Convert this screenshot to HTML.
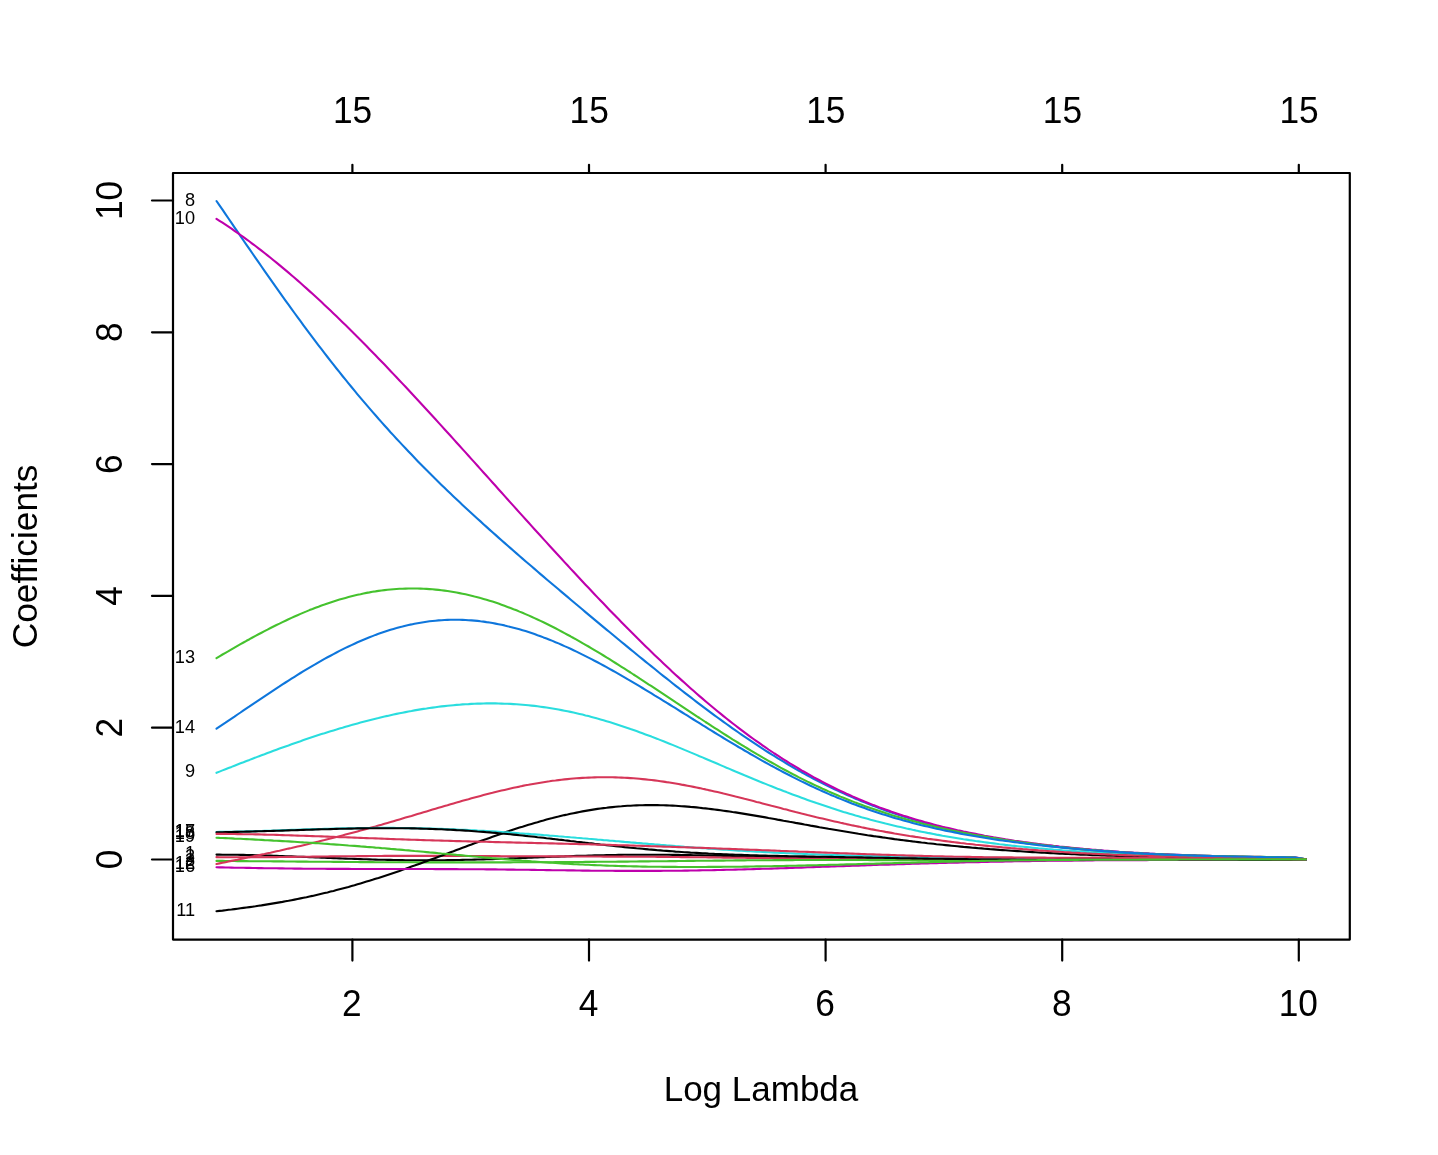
<!DOCTYPE html>
<html lang="en">
<head>
<meta charset="utf-8">
<title>Coefficient paths</title>
<style>
html,body{margin:0;padding:0;background:#fff;}
body{width:1438px;height:1155px;overflow:hidden;}
svg{display:block;}
text{font-family:"Liberation Sans",sans-serif;fill:#000;}
.ax{font-size:35.3px;}
.lb{font-size:18.2px;text-anchor:end;}
.ln{fill:none;stroke-width:2.10;stroke-linecap:round;stroke-linejoin:round;}
.tk{stroke:#000;stroke-width:2.2;fill:none;stroke-linecap:round;stroke-linejoin:round;}
</style>
</head>
<body>
<svg width="1438" height="1155" viewBox="0 0 1438 1155">
<rect x="0" y="0" width="1438" height="1155" fill="#ffffff"/>
<g id="curves">
<path class="ln" stroke="#000000" d="M216.5 854.6 L219.5 854.6 L222.5 854.7 L225.5 854.7 L228.5 854.7 L231.5 854.7 L234.5 854.8 L237.5 854.8 L240.5 854.9 L243.5 854.9 L246.5 855.0 L249.5 855.0 L252.5 855.1 L255.5 855.2 L258.5 855.3 L261.5 855.4 L264.5 855.4 L267.5 855.5 L270.5 855.6 L273.5 855.7 L276.5 855.8 L279.5 856.0 L282.5 856.1 L285.5 856.2 L288.5 856.3 L291.5 856.4 L294.5 856.5 L297.5 856.7 L300.5 856.8 L303.5 856.9 L306.5 857.0 L309.5 857.2 L312.5 857.3 L315.5 857.4 L318.5 857.5 L321.5 857.7 L324.5 857.8 L327.5 857.9 L330.5 858.0 L333.5 858.1 L336.5 858.3 L339.5 858.4 L342.5 858.5 L345.5 858.6 L348.5 858.7 L351.5 858.8 L354.5 858.9 L357.5 859.0 L360.5 859.1 L363.5 859.2 L366.5 859.3 L369.5 859.4 L372.5 859.5 L375.5 859.6 L378.5 859.7 L381.5 859.7 L384.5 859.8 L387.5 859.9 L390.5 859.9 L393.5 860.0 L396.5 860.0 L399.5 860.1 L402.5 860.1 L405.5 860.2 L408.5 860.2 L411.5 860.2 L414.5 860.3 L417.5 860.3 L420.5 860.3 L423.5 860.3 L426.5 860.3 L429.5 860.3 L432.5 860.3 L435.5 860.3 L438.5 860.2 L441.5 860.2 L444.5 860.2 L447.5 860.1 L450.5 860.1 L453.5 860.1 L456.5 860.0 L459.5 860.0 L462.5 859.9 L465.5 859.8 L468.5 859.8 L471.5 859.7 L474.5 859.6 L477.5 859.5 L480.5 859.5 L483.5 859.4 L486.5 859.3 L489.5 859.2 L492.5 859.1 L495.5 859.0 L498.5 858.9 L501.5 858.8 L504.5 858.7 L507.5 858.6 L510.5 858.4 L513.5 858.3 L516.5 858.2 L519.5 858.1 L522.5 858.0 L525.5 857.9 L528.5 857.7 L531.5 857.6 L534.5 857.5 L537.5 857.4 L540.5 857.3 L543.5 857.2 L546.5 857.0 L549.5 856.9 L552.5 856.8 L555.5 856.7 L558.5 856.6 L561.5 856.5 L564.5 856.4 L567.5 856.2 L570.5 856.1 L573.5 856.0 L576.5 855.9 L579.5 855.8 L582.5 855.8 L585.5 855.7 L588.5 855.6 L591.5 855.5 L594.5 855.4 L597.5 855.3 L600.5 855.3 L603.5 855.2 L606.5 855.1 L609.5 855.1 L612.5 855.0 L615.5 855.0 L618.5 854.9 L621.5 854.9 L624.5 854.8 L627.5 854.8 L630.5 854.8 L633.5 854.8 L636.5 854.7 L639.5 854.7 L642.5 854.7 L645.5 854.7 L648.5 854.7 L651.5 854.7 L654.5 854.7 L657.5 854.7 L660.5 854.8 L663.5 854.8 L666.5 854.8 L669.5 854.8 L672.5 854.9 L675.5 854.9 L678.5 854.9 L681.5 855.0 L684.5 855.0 L687.5 855.1 L690.5 855.1 L693.5 855.2 L696.5 855.3 L699.5 855.3 L702.5 855.4 L705.5 855.5 L708.5 855.5 L711.5 855.6 L714.5 855.7 L717.5 855.7 L720.5 855.8 L723.5 855.9 L726.5 856.0 L729.5 856.1 L732.5 856.1 L735.5 856.2 L738.5 856.3 L741.5 856.4 L744.5 856.5 L747.5 856.5 L750.5 856.6 L753.5 856.7 L756.5 856.8 L759.5 856.9 L762.5 856.9 L765.5 857.0 L768.5 857.1 L771.5 857.2 L774.5 857.2 L777.5 857.3 L780.5 857.4 L783.5 857.4 L786.5 857.5 L789.5 857.6 L792.5 857.6 L795.5 857.7 L798.5 857.8 L801.5 857.8 L804.5 857.9 L807.5 857.9 L810.5 858.0 L813.5 858.0 L816.5 858.1 L819.5 858.1 L822.5 858.2 L825.5 858.2 L828.5 858.2 L831.5 858.3 L834.5 858.3 L837.5 858.3 L840.5 858.4 L843.5 858.4 L846.5 858.4 L849.5 858.5 L852.5 858.5 L855.5 858.5 L858.5 858.5 L861.5 858.5 L864.5 858.5 L867.5 858.6 L870.5 858.6 L873.5 858.6 L876.5 858.6 L879.5 858.6 L882.5 858.6 L885.5 858.6 L888.5 858.6 L891.5 858.6 L894.5 858.6 L897.5 858.6 L900.5 858.6 L903.5 858.6 L906.5 858.6 L909.5 858.6 L912.5 858.6 L915.5 858.6 L918.5 858.6 L921.5 858.6 L924.5 858.6 L927.5 858.6 L930.5 858.6 L933.5 858.6 L936.5 858.6 L939.5 858.6 L942.5 858.7 L945.5 858.7 L948.5 858.7 L951.5 858.7 L954.5 858.7 L957.5 858.7 L960.5 858.7 L963.5 858.7 L966.5 858.7 L969.5 858.7 L972.5 858.7 L975.5 858.7 L978.5 858.7 L981.5 858.7 L984.5 858.7 L987.5 858.7 L990.5 858.7 L993.5 858.7 L996.5 858.7 L999.5 858.8 L1002.5 858.8 L1005.5 858.8 L1008.5 858.8 L1011.5 858.8 L1014.5 858.8 L1017.5 858.8 L1020.5 858.8 L1023.5 858.9 L1026.5 858.9 L1029.5 858.9 L1032.5 858.9 L1035.5 858.9 L1038.5 858.9 L1041.5 858.9 L1044.5 859.0 L1047.5 859.0 L1050.5 859.0 L1053.5 859.0 L1056.5 859.0 L1059.5 859.0 L1062.5 859.1 L1065.5 859.1 L1068.5 859.1 L1071.5 859.1 L1074.5 859.1 L1077.5 859.1 L1080.5 859.1 L1083.5 859.2 L1086.5 859.2 L1089.5 859.2 L1092.5 859.2 L1095.5 859.2 L1098.5 859.2 L1101.5 859.2 L1104.5 859.2 L1107.5 859.2 L1110.5 859.3 L1113.5 859.3 L1116.5 859.3 L1119.5 859.3 L1122.5 859.3 L1125.5 859.3 L1128.5 859.3 L1131.5 859.3 L1134.5 859.3 L1137.5 859.3 L1140.5 859.3 L1143.5 859.3 L1146.5 859.3 L1149.5 859.3 L1152.5 859.3 L1155.5 859.3 L1158.5 859.4 L1161.5 859.4 L1164.5 859.4 L1167.5 859.4 L1170.5 859.4 L1173.5 859.4 L1176.5 859.4 L1179.5 859.4 L1182.5 859.4 L1185.5 859.4 L1188.5 859.4 L1191.5 859.4 L1194.5 859.4 L1197.5 859.4 L1200.5 859.4 L1203.5 859.4 L1206.5 859.4 L1209.5 859.4 L1212.5 859.4 L1215.5 859.4 L1218.5 859.4 L1221.5 859.4 L1224.5 859.4 L1227.5 859.4 L1230.5 859.4 L1233.5 859.4 L1236.5 859.4 L1239.5 859.4 L1242.5 859.4 L1245.5 859.4 L1248.5 859.4 L1251.5 859.4 L1254.5 859.4 L1257.5 859.4 L1260.5 859.4 L1263.5 859.4 L1266.5 859.4 L1269.5 859.4 L1272.5 859.4 L1275.5 859.5 L1278.5 859.5 L1281.5 859.5 L1284.5 859.5 L1287.5 859.5 L1290.5 859.5 L1293.5 859.5 L1294.9 859.5 L1305.9 859.4"/>
<path class="ln" stroke="#D63658" d="M216.5 857.1 L219.5 857.2 L222.5 857.2 L225.5 857.2 L228.5 857.2 L231.5 857.2 L234.5 857.2 L237.5 857.2 L240.5 857.2 L243.5 857.2 L246.5 857.2 L249.5 857.2 L252.5 857.2 L255.5 857.2 L258.5 857.2 L261.5 857.2 L264.5 857.2 L267.5 857.1 L270.5 857.1 L273.5 857.1 L276.5 857.1 L279.5 857.0 L282.5 857.0 L285.5 857.0 L288.5 856.9 L291.5 856.9 L294.5 856.9 L297.5 856.8 L300.5 856.8 L303.5 856.8 L306.5 856.7 L309.5 856.7 L312.5 856.6 L315.5 856.6 L318.5 856.6 L321.5 856.5 L324.5 856.5 L327.5 856.5 L330.5 856.4 L333.5 856.4 L336.5 856.3 L339.5 856.3 L342.5 856.3 L345.5 856.2 L348.5 856.2 L351.5 856.2 L354.5 856.2 L357.5 856.1 L360.5 856.1 L363.5 856.1 L366.5 856.1 L369.5 856.0 L372.5 856.0 L375.5 856.0 L378.5 856.0 L381.5 856.0 L384.5 855.9 L387.5 855.9 L390.5 855.9 L393.5 855.9 L396.5 855.9 L399.5 855.9 L402.5 855.9 L405.5 855.9 L408.5 855.9 L411.5 855.9 L414.5 855.9 L417.5 855.9 L420.5 855.9 L423.5 855.9 L426.5 855.9 L429.5 855.9 L432.5 855.9 L435.5 855.9 L438.5 855.9 L441.5 855.9 L444.5 855.9 L447.5 855.9 L450.5 855.9 L453.5 855.9 L456.5 855.9 L459.5 856.0 L462.5 856.0 L465.5 856.0 L468.5 856.0 L471.5 856.0 L474.5 856.0 L477.5 856.0 L480.5 856.1 L483.5 856.1 L486.5 856.1 L489.5 856.1 L492.5 856.1 L495.5 856.1 L498.5 856.1 L501.5 856.2 L504.5 856.2 L507.5 856.2 L510.5 856.2 L513.5 856.2 L516.5 856.2 L519.5 856.2 L522.5 856.3 L525.5 856.3 L528.5 856.3 L531.5 856.3 L534.5 856.3 L537.5 856.3 L540.5 856.3 L543.5 856.3 L546.5 856.4 L549.5 856.4 L552.5 856.4 L555.5 856.4 L558.5 856.4 L561.5 856.4 L564.5 856.4 L567.5 856.4 L570.5 856.4 L573.5 856.5 L576.5 856.5 L579.5 856.5 L582.5 856.5 L585.5 856.5 L588.5 856.5 L591.5 856.5 L594.5 856.5 L597.5 856.5 L600.5 856.5 L603.5 856.6 L606.5 856.6 L609.5 856.6 L612.5 856.6 L615.5 856.6 L618.5 856.6 L621.5 856.6 L624.5 856.6 L627.5 856.7 L630.5 856.7 L633.5 856.7 L636.5 856.7 L639.5 856.7 L642.5 856.7 L645.5 856.8 L648.5 856.8 L651.5 856.8 L654.5 856.8 L657.5 856.9 L660.5 856.9 L663.5 856.9 L666.5 856.9 L669.5 857.0 L672.5 857.0 L675.5 857.0 L678.5 857.0 L681.5 857.1 L684.5 857.1 L687.5 857.1 L690.5 857.2 L693.5 857.2 L696.5 857.2 L699.5 857.3 L702.5 857.3 L705.5 857.3 L708.5 857.4 L711.5 857.4 L714.5 857.4 L717.5 857.5 L720.5 857.5 L723.5 857.6 L726.5 857.6 L729.5 857.6 L732.5 857.7 L735.5 857.7 L738.5 857.7 L741.5 857.8 L744.5 857.8 L747.5 857.9 L750.5 857.9 L753.5 857.9 L756.5 858.0 L759.5 858.0 L762.5 858.1 L765.5 858.1 L768.5 858.1 L771.5 858.2 L774.5 858.2 L777.5 858.2 L780.5 858.3 L783.5 858.3 L786.5 858.3 L789.5 858.4 L792.5 858.4 L795.5 858.4 L798.5 858.5 L801.5 858.5 L804.5 858.5 L807.5 858.6 L810.5 858.6 L813.5 858.6 L816.5 858.6 L819.5 858.7 L822.5 858.7 L825.5 858.7 L828.5 858.7 L831.5 858.7 L834.5 858.8 L837.5 858.8 L840.5 858.8 L843.5 858.8 L846.5 858.8 L849.5 858.8 L852.5 858.9 L855.5 858.9 L858.5 858.9 L861.5 858.9 L864.5 858.9 L867.5 858.9 L870.5 858.9 L873.5 858.9 L876.5 858.9 L879.5 858.9 L882.5 858.9 L885.5 858.9 L888.5 858.9 L891.5 858.9 L894.5 858.9 L897.5 858.9 L900.5 858.9 L903.5 858.9 L906.5 858.9 L909.5 858.9 L912.5 858.9 L915.5 858.9 L918.5 858.9 L921.5 858.9 L924.5 858.9 L927.5 858.9 L930.5 858.9 L933.5 858.9 L936.5 858.9 L939.5 858.9 L942.5 858.9 L945.5 858.9 L948.5 858.9 L951.5 858.9 L954.5 858.9 L957.5 858.9 L960.5 858.9 L963.5 858.9 L966.5 858.9 L969.5 858.9 L972.5 858.9 L975.5 858.9 L978.5 858.9 L981.5 858.9 L984.5 858.9 L987.5 858.9 L990.5 858.9 L993.5 858.9 L996.5 858.9 L999.5 858.9 L1002.5 858.9 L1005.5 858.9 L1008.5 858.9 L1011.5 858.9 L1014.5 858.9 L1017.5 858.9 L1020.5 859.0 L1023.5 859.0 L1026.5 859.0 L1029.5 859.0 L1032.5 859.0 L1035.5 859.0 L1038.5 859.0 L1041.5 859.0 L1044.5 859.0 L1047.5 859.0 L1050.5 859.0 L1053.5 859.0 L1056.5 859.1 L1059.5 859.1 L1062.5 859.1 L1065.5 859.1 L1068.5 859.1 L1071.5 859.1 L1074.5 859.1 L1077.5 859.1 L1080.5 859.1 L1083.5 859.1 L1086.5 859.1 L1089.5 859.2 L1092.5 859.2 L1095.5 859.2 L1098.5 859.2 L1101.5 859.2 L1104.5 859.2 L1107.5 859.2 L1110.5 859.2 L1113.5 859.2 L1116.5 859.2 L1119.5 859.2 L1122.5 859.2 L1125.5 859.3 L1128.5 859.3 L1131.5 859.3 L1134.5 859.3 L1137.5 859.3 L1140.5 859.3 L1143.5 859.3 L1146.5 859.3 L1149.5 859.3 L1152.5 859.3 L1155.5 859.3 L1158.5 859.3 L1161.5 859.3 L1164.5 859.3 L1167.5 859.3 L1170.5 859.3 L1173.5 859.3 L1176.5 859.3 L1179.5 859.3 L1182.5 859.3 L1185.5 859.3 L1188.5 859.3 L1191.5 859.3 L1194.5 859.3 L1197.5 859.3 L1200.5 859.3 L1203.5 859.3 L1206.5 859.3 L1209.5 859.3 L1212.5 859.3 L1215.5 859.3 L1218.5 859.3 L1221.5 859.3 L1224.5 859.3 L1227.5 859.3 L1230.5 859.3 L1233.5 859.3 L1236.5 859.3 L1239.5 859.3 L1242.5 859.3 L1245.5 859.3 L1248.5 859.3 L1251.5 859.3 L1254.5 859.3 L1257.5 859.3 L1260.5 859.3 L1263.5 859.3 L1266.5 859.3 L1269.5 859.3 L1272.5 859.3 L1275.5 859.3 L1278.5 859.3 L1281.5 859.4 L1284.5 859.4 L1287.5 859.4 L1290.5 859.4 L1293.5 859.4 L1294.9 859.4 L1305.9 859.4"/>
<path class="ln" stroke="#45C22E" d="M216.5 860.9 L219.5 860.9 L222.5 860.9 L225.5 861.0 L228.5 861.0 L231.5 861.0 L234.5 861.0 L237.5 861.1 L240.5 861.1 L243.5 861.1 L246.5 861.1 L249.5 861.2 L252.5 861.2 L255.5 861.2 L258.5 861.2 L261.5 861.3 L264.5 861.3 L267.5 861.3 L270.5 861.3 L273.5 861.4 L276.5 861.4 L279.5 861.4 L282.5 861.4 L285.5 861.5 L288.5 861.5 L291.5 861.5 L294.5 861.5 L297.5 861.6 L300.5 861.6 L303.5 861.6 L306.5 861.6 L309.5 861.7 L312.5 861.7 L315.5 861.7 L318.5 861.7 L321.5 861.8 L324.5 861.8 L327.5 861.8 L330.5 861.8 L333.5 861.9 L336.5 861.9 L339.5 861.9 L342.5 861.9 L345.5 862.0 L348.5 862.0 L351.5 862.0 L354.5 862.0 L357.5 862.0 L360.5 862.1 L363.5 862.1 L366.5 862.1 L369.5 862.1 L372.5 862.1 L375.5 862.2 L378.5 862.2 L381.5 862.2 L384.5 862.2 L387.5 862.2 L390.5 862.2 L393.5 862.3 L396.5 862.3 L399.5 862.3 L402.5 862.3 L405.5 862.3 L408.5 862.3 L411.5 862.3 L414.5 862.3 L417.5 862.4 L420.5 862.4 L423.5 862.4 L426.5 862.4 L429.5 862.4 L432.5 862.4 L435.5 862.4 L438.5 862.4 L441.5 862.4 L444.5 862.4 L447.5 862.4 L450.5 862.4 L453.5 862.4 L456.5 862.4 L459.5 862.4 L462.5 862.4 L465.5 862.4 L468.5 862.4 L471.5 862.4 L474.5 862.4 L477.5 862.4 L480.5 862.4 L483.5 862.4 L486.5 862.4 L489.5 862.4 L492.5 862.4 L495.5 862.4 L498.5 862.4 L501.5 862.4 L504.5 862.4 L507.5 862.4 L510.5 862.4 L513.5 862.3 L516.5 862.3 L519.5 862.3 L522.5 862.3 L525.5 862.3 L528.5 862.3 L531.5 862.3 L534.5 862.3 L537.5 862.2 L540.5 862.2 L543.5 862.2 L546.5 862.2 L549.5 862.2 L552.5 862.2 L555.5 862.1 L558.5 862.1 L561.5 862.1 L564.5 862.1 L567.5 862.1 L570.5 862.0 L573.5 862.0 L576.5 862.0 L579.5 862.0 L582.5 862.0 L585.5 861.9 L588.5 861.9 L591.5 861.9 L594.5 861.9 L597.5 861.8 L600.5 861.8 L603.5 861.8 L606.5 861.8 L609.5 861.7 L612.5 861.7 L615.5 861.7 L618.5 861.6 L621.5 861.6 L624.5 861.6 L627.5 861.6 L630.5 861.5 L633.5 861.5 L636.5 861.5 L639.5 861.4 L642.5 861.4 L645.5 861.4 L648.5 861.4 L651.5 861.3 L654.5 861.3 L657.5 861.3 L660.5 861.2 L663.5 861.2 L666.5 861.2 L669.5 861.1 L672.5 861.1 L675.5 861.1 L678.5 861.0 L681.5 861.0 L684.5 861.0 L687.5 860.9 L690.5 860.9 L693.5 860.9 L696.5 860.8 L699.5 860.8 L702.5 860.8 L705.5 860.7 L708.5 860.7 L711.5 860.7 L714.5 860.6 L717.5 860.6 L720.5 860.6 L723.5 860.6 L726.5 860.5 L729.5 860.5 L732.5 860.5 L735.5 860.4 L738.5 860.4 L741.5 860.4 L744.5 860.4 L747.5 860.3 L750.5 860.3 L753.5 860.3 L756.5 860.3 L759.5 860.2 L762.5 860.2 L765.5 860.2 L768.5 860.2 L771.5 860.2 L774.5 860.1 L777.5 860.1 L780.5 860.1 L783.5 860.1 L786.5 860.1 L789.5 860.1 L792.5 860.1 L795.5 860.0 L798.5 860.0 L801.5 860.0 L804.5 860.0 L807.5 860.0 L810.5 860.0 L813.5 860.0 L816.5 860.0 L819.5 860.0 L822.5 860.0 L825.5 860.0 L828.5 860.0 L831.5 860.0 L834.5 860.0 L837.5 860.0 L840.5 860.0 L843.5 860.0 L846.5 860.0 L849.5 860.0 L852.5 860.0 L855.5 860.0 L858.5 860.0 L861.5 860.0 L864.5 860.0 L867.5 860.0 L870.5 860.1 L873.5 860.1 L876.5 860.1 L879.5 860.1 L882.5 860.1 L885.5 860.1 L888.5 860.1 L891.5 860.1 L894.5 860.1 L897.5 860.2 L900.5 860.2 L903.5 860.2 L906.5 860.2 L909.5 860.2 L912.5 860.2 L915.5 860.2 L918.5 860.2 L921.5 860.3 L924.5 860.3 L927.5 860.3 L930.5 860.3 L933.5 860.3 L936.5 860.3 L939.5 860.3 L942.5 860.3 L945.5 860.3 L948.5 860.3 L951.5 860.4 L954.5 860.4 L957.5 860.4 L960.5 860.4 L963.5 860.4 L966.5 860.4 L969.5 860.4 L972.5 860.4 L975.5 860.4 L978.5 860.4 L981.5 860.4 L984.5 860.4 L987.5 860.4 L990.5 860.4 L993.5 860.4 L996.5 860.4 L999.5 860.4 L1002.5 860.4 L1005.5 860.4 L1008.5 860.4 L1011.5 860.4 L1014.5 860.4 L1017.5 860.4 L1020.5 860.3 L1023.5 860.3 L1026.5 860.3 L1029.5 860.3 L1032.5 860.3 L1035.5 860.3 L1038.5 860.3 L1041.5 860.3 L1044.5 860.3 L1047.5 860.2 L1050.5 860.2 L1053.5 860.2 L1056.5 860.2 L1059.5 860.2 L1062.5 860.2 L1065.5 860.2 L1068.5 860.1 L1071.5 860.1 L1074.5 860.1 L1077.5 860.1 L1080.5 860.1 L1083.5 860.1 L1086.5 860.0 L1089.5 860.0 L1092.5 860.0 L1095.5 860.0 L1098.5 860.0 L1101.5 860.0 L1104.5 860.0 L1107.5 859.9 L1110.5 859.9 L1113.5 859.9 L1116.5 859.9 L1119.5 859.9 L1122.5 859.9 L1125.5 859.9 L1128.5 859.9 L1131.5 859.8 L1134.5 859.8 L1137.5 859.8 L1140.5 859.8 L1143.5 859.8 L1146.5 859.8 L1149.5 859.8 L1152.5 859.8 L1155.5 859.8 L1158.5 859.8 L1161.5 859.8 L1164.5 859.8 L1167.5 859.8 L1170.5 859.7 L1173.5 859.7 L1176.5 859.7 L1179.5 859.7 L1182.5 859.7 L1185.5 859.7 L1188.5 859.7 L1191.5 859.7 L1194.5 859.7 L1197.5 859.7 L1200.5 859.7 L1203.5 859.7 L1206.5 859.7 L1209.5 859.7 L1212.5 859.7 L1215.5 859.7 L1218.5 859.7 L1221.5 859.7 L1224.5 859.7 L1227.5 859.7 L1230.5 859.7 L1233.5 859.7 L1236.5 859.7 L1239.5 859.7 L1242.5 859.7 L1245.5 859.7 L1248.5 859.7 L1251.5 859.7 L1254.5 859.7 L1257.5 859.7 L1260.5 859.7 L1263.5 859.7 L1266.5 859.7 L1269.5 859.7 L1272.5 859.7 L1275.5 859.7 L1278.5 859.7 L1281.5 859.7 L1284.5 859.7 L1287.5 859.7 L1290.5 859.7 L1293.5 859.7 L1294.9 859.7 L1305.9 859.4"/>
<path class="ln" stroke="#0E76DC" d="M216.5 201.0 L219.5 205.3 L222.5 209.7 L225.5 214.1 L228.5 218.5 L231.5 222.9 L234.5 227.3 L237.5 231.7 L240.5 236.1 L243.5 240.5 L246.5 244.8 L249.5 249.2 L252.5 253.5 L255.5 257.9 L258.5 262.2 L261.5 266.5 L264.5 270.8 L267.5 275.1 L270.5 279.4 L273.5 283.7 L276.5 287.9 L279.5 292.2 L282.5 296.4 L285.5 300.6 L288.5 304.7 L291.5 308.9 L294.5 313.0 L297.5 317.1 L300.5 321.2 L303.5 325.3 L306.5 329.4 L309.5 333.4 L312.5 337.4 L315.5 341.4 L318.5 345.3 L321.5 349.2 L324.5 353.1 L327.5 357.0 L330.5 360.9 L333.5 364.7 L336.5 368.5 L339.5 372.2 L342.5 376.0 L345.5 379.7 L348.5 383.4 L351.5 387.0 L354.5 390.7 L357.5 394.3 L360.5 397.9 L363.5 401.4 L366.5 404.9 L369.5 408.4 L372.5 411.9 L375.5 415.3 L378.5 418.8 L381.5 422.1 L384.5 425.5 L387.5 428.8 L390.5 432.2 L393.5 435.4 L396.5 438.7 L399.5 441.9 L402.5 445.1 L405.5 448.3 L408.5 451.5 L411.5 454.6 L414.5 457.8 L417.5 460.9 L420.5 463.9 L423.5 467.0 L426.5 470.0 L429.5 473.0 L432.5 476.0 L435.5 479.0 L438.5 481.9 L441.5 484.9 L444.5 487.8 L447.5 490.7 L450.5 493.5 L453.5 496.4 L456.5 499.2 L459.5 502.1 L462.5 504.9 L465.5 507.7 L468.5 510.5 L471.5 513.2 L474.5 516.0 L477.5 518.7 L480.5 521.4 L483.5 524.2 L486.5 526.9 L489.5 529.6 L492.5 532.2 L495.5 534.9 L498.5 537.6 L501.5 540.2 L504.5 542.9 L507.5 545.5 L510.5 548.1 L513.5 550.8 L516.5 553.4 L519.5 556.0 L522.5 558.6 L525.5 561.2 L528.5 563.8 L531.5 566.3 L534.5 568.9 L537.5 571.5 L540.5 574.1 L543.5 576.6 L546.5 579.2 L549.5 581.7 L552.5 584.3 L555.5 586.8 L558.5 589.3 L561.5 591.9 L564.5 594.4 L567.5 596.9 L570.5 599.5 L573.5 602.0 L576.5 604.5 L579.5 607.0 L582.5 609.5 L585.5 612.1 L588.5 614.6 L591.5 617.1 L594.5 619.6 L597.5 622.1 L600.5 624.6 L603.5 627.1 L606.5 629.6 L609.5 632.0 L612.5 634.5 L615.5 637.0 L618.5 639.5 L621.5 642.0 L624.5 644.4 L627.5 646.9 L630.5 649.4 L633.5 651.8 L636.5 654.3 L639.5 656.7 L642.5 659.1 L645.5 661.6 L648.5 664.0 L651.5 666.4 L654.5 668.8 L657.5 671.3 L660.5 673.7 L663.5 676.1 L666.5 678.4 L669.5 680.8 L672.5 683.2 L675.5 685.6 L678.5 687.9 L681.5 690.3 L684.5 692.6 L687.5 694.9 L690.5 697.2 L693.5 699.5 L696.5 701.8 L699.5 704.1 L702.5 706.4 L705.5 708.6 L708.5 710.9 L711.5 713.1 L714.5 715.3 L717.5 717.5 L720.5 719.7 L723.5 721.9 L726.5 724.0 L729.5 726.2 L732.5 728.3 L735.5 730.4 L738.5 732.5 L741.5 734.6 L744.5 736.7 L747.5 738.7 L750.5 740.7 L753.5 742.7 L756.5 744.7 L759.5 746.7 L762.5 748.6 L765.5 750.6 L768.5 752.5 L771.5 754.4 L774.5 756.2 L777.5 758.1 L780.5 759.9 L783.5 761.7 L786.5 763.5 L789.5 765.3 L792.5 767.0 L795.5 768.8 L798.5 770.5 L801.5 772.2 L804.5 773.8 L807.5 775.5 L810.5 777.1 L813.5 778.7 L816.5 780.2 L819.5 781.8 L822.5 783.3 L825.5 784.8 L828.5 786.3 L831.5 787.8 L834.5 789.2 L837.5 790.6 L840.5 792.0 L843.5 793.4 L846.5 794.7 L849.5 796.1 L852.5 797.4 L855.5 798.7 L858.5 799.9 L861.5 801.2 L864.5 802.4 L867.5 803.6 L870.5 804.8 L873.5 805.9 L876.5 807.1 L879.5 808.2 L882.5 809.3 L885.5 810.4 L888.5 811.4 L891.5 812.5 L894.5 813.5 L897.5 814.5 L900.5 815.5 L903.5 816.4 L906.5 817.4 L909.5 818.3 L912.5 819.2 L915.5 820.1 L918.5 821.0 L921.5 821.8 L924.5 822.7 L927.5 823.5 L930.5 824.3 L933.5 825.1 L936.5 825.9 L939.5 826.6 L942.5 827.4 L945.5 828.1 L948.5 828.8 L951.5 829.5 L954.5 830.2 L957.5 830.9 L960.5 831.6 L963.5 832.2 L966.5 832.8 L969.5 833.5 L972.5 834.1 L975.5 834.7 L978.5 835.2 L981.5 835.8 L984.5 836.4 L987.5 836.9 L990.5 837.5 L993.5 838.0 L996.5 838.5 L999.5 839.0 L1002.5 839.5 L1005.5 840.0 L1008.5 840.4 L1011.5 840.9 L1014.5 841.3 L1017.5 841.8 L1020.5 842.2 L1023.5 842.6 L1026.5 843.1 L1029.5 843.5 L1032.5 843.9 L1035.5 844.3 L1038.5 844.6 L1041.5 845.0 L1044.5 845.4 L1047.5 845.7 L1050.5 846.1 L1053.5 846.4 L1056.5 846.7 L1059.5 847.1 L1062.5 847.4 L1065.5 847.7 L1068.5 848.0 L1071.5 848.3 L1074.5 848.6 L1077.5 848.8 L1080.5 849.1 L1083.5 849.4 L1086.5 849.6 L1089.5 849.9 L1092.5 850.1 L1095.5 850.4 L1098.5 850.6 L1101.5 850.8 L1104.5 851.1 L1107.5 851.3 L1110.5 851.5 L1113.5 851.7 L1116.5 851.9 L1119.5 852.1 L1122.5 852.3 L1125.5 852.5 L1128.5 852.7 L1131.5 852.8 L1134.5 853.0 L1137.5 853.2 L1140.5 853.3 L1143.5 853.5 L1146.5 853.6 L1149.5 853.8 L1152.5 853.9 L1155.5 854.1 L1158.5 854.2 L1161.5 854.3 L1164.5 854.5 L1167.5 854.6 L1170.5 854.7 L1173.5 854.8 L1176.5 854.9 L1179.5 855.1 L1182.5 855.2 L1185.5 855.3 L1188.5 855.4 L1191.5 855.5 L1194.5 855.6 L1197.5 855.7 L1200.5 855.8 L1203.5 855.8 L1206.5 855.9 L1209.5 856.0 L1212.5 856.1 L1215.5 856.2 L1218.5 856.2 L1221.5 856.3 L1224.5 856.4 L1227.5 856.5 L1230.5 856.5 L1233.5 856.6 L1236.5 856.7 L1239.5 856.7 L1242.5 856.8 L1245.5 856.9 L1248.5 856.9 L1251.5 857.0 L1254.5 857.0 L1257.5 857.1 L1260.5 857.1 L1263.5 857.2 L1266.5 857.2 L1269.5 857.3 L1272.5 857.3 L1275.5 857.4 L1278.5 857.4 L1281.5 857.5 L1284.5 857.5 L1287.5 857.6 L1290.5 857.6 L1293.5 857.6 L1294.9 857.7 L1305.9 859.4"/>
<path class="ln" stroke="#2ADDDE" d="M216.5 772.8 L219.5 771.6 L222.5 770.4 L225.5 769.2 L228.5 768.0 L231.5 766.9 L234.5 765.7 L237.5 764.5 L240.5 763.3 L243.5 762.2 L246.5 761.0 L249.5 759.9 L252.5 758.7 L255.5 757.6 L258.5 756.4 L261.5 755.3 L264.5 754.2 L267.5 753.0 L270.5 751.9 L273.5 750.8 L276.5 749.7 L279.5 748.6 L282.5 747.5 L285.5 746.4 L288.5 745.4 L291.5 744.3 L294.5 743.2 L297.5 742.2 L300.5 741.2 L303.5 740.1 L306.5 739.1 L309.5 738.1 L312.5 737.1 L315.5 736.1 L318.5 735.1 L321.5 734.1 L324.5 733.2 L327.5 732.2 L330.5 731.3 L333.5 730.4 L336.5 729.5 L339.5 728.5 L342.5 727.7 L345.5 726.8 L348.5 725.9 L351.5 725.1 L354.5 724.2 L357.5 723.4 L360.5 722.6 L363.5 721.8 L366.5 721.0 L369.5 720.2 L372.5 719.4 L375.5 718.7 L378.5 718.0 L381.5 717.2 L384.5 716.5 L387.5 715.9 L390.5 715.2 L393.5 714.5 L396.5 713.9 L399.5 713.3 L402.5 712.7 L405.5 712.1 L408.5 711.5 L411.5 711.0 L414.5 710.4 L417.5 709.9 L420.5 709.4 L423.5 708.9 L426.5 708.5 L429.5 708.0 L432.5 707.6 L435.5 707.2 L438.5 706.8 L441.5 706.4 L444.5 706.1 L447.5 705.8 L450.5 705.5 L453.5 705.2 L456.5 704.9 L459.5 704.7 L462.5 704.4 L465.5 704.2 L468.5 704.1 L471.5 703.9 L474.5 703.8 L477.5 703.6 L480.5 703.6 L483.5 703.5 L486.5 703.4 L489.5 703.4 L492.5 703.4 L495.5 703.4 L498.5 703.5 L501.5 703.6 L504.5 703.7 L507.5 703.8 L510.5 703.9 L513.5 704.1 L516.5 704.3 L519.5 704.5 L522.5 704.7 L525.5 705.0 L528.5 705.3 L531.5 705.6 L534.5 705.9 L537.5 706.3 L540.5 706.7 L543.5 707.1 L546.5 707.5 L549.5 708.0 L552.5 708.5 L555.5 709.0 L558.5 709.5 L561.5 710.1 L564.5 710.7 L567.5 711.3 L570.5 711.9 L573.5 712.5 L576.5 713.2 L579.5 713.9 L582.5 714.6 L585.5 715.4 L588.5 716.1 L591.5 716.9 L594.5 717.7 L597.5 718.6 L600.5 719.4 L603.5 720.3 L606.5 721.2 L609.5 722.1 L612.5 723.0 L615.5 723.9 L618.5 724.9 L621.5 725.9 L624.5 726.9 L627.5 727.9 L630.5 729.0 L633.5 730.0 L636.5 731.1 L639.5 732.2 L642.5 733.3 L645.5 734.4 L648.5 735.5 L651.5 736.6 L654.5 737.8 L657.5 738.9 L660.5 740.1 L663.5 741.3 L666.5 742.5 L669.5 743.7 L672.5 744.9 L675.5 746.1 L678.5 747.4 L681.5 748.6 L684.5 749.9 L687.5 751.1 L690.5 752.4 L693.5 753.6 L696.5 754.9 L699.5 756.2 L702.5 757.4 L705.5 758.7 L708.5 760.0 L711.5 761.3 L714.5 762.5 L717.5 763.8 L720.5 765.1 L723.5 766.4 L726.5 767.7 L729.5 768.9 L732.5 770.2 L735.5 771.5 L738.5 772.7 L741.5 774.0 L744.5 775.3 L747.5 776.5 L750.5 777.7 L753.5 779.0 L756.5 780.2 L759.5 781.5 L762.5 782.7 L765.5 783.9 L768.5 785.1 L771.5 786.3 L774.5 787.5 L777.5 788.7 L780.5 789.8 L783.5 791.0 L786.5 792.1 L789.5 793.3 L792.5 794.4 L795.5 795.5 L798.5 796.6 L801.5 797.7 L804.5 798.8 L807.5 799.9 L810.5 801.0 L813.5 802.0 L816.5 803.1 L819.5 804.1 L822.5 805.1 L825.5 806.1 L828.5 807.1 L831.5 808.1 L834.5 809.0 L837.5 810.0 L840.5 810.9 L843.5 811.9 L846.5 812.8 L849.5 813.7 L852.5 814.6 L855.5 815.5 L858.5 816.3 L861.5 817.2 L864.5 818.0 L867.5 818.8 L870.5 819.7 L873.5 820.5 L876.5 821.3 L879.5 822.0 L882.5 822.8 L885.5 823.6 L888.5 824.3 L891.5 825.0 L894.5 825.7 L897.5 826.4 L900.5 827.1 L903.5 827.8 L906.5 828.5 L909.5 829.1 L912.5 829.8 L915.5 830.4 L918.5 831.1 L921.5 831.7 L924.5 832.3 L927.5 832.9 L930.5 833.4 L933.5 834.0 L936.5 834.6 L939.5 835.1 L942.5 835.7 L945.5 836.2 L948.5 836.7 L951.5 837.2 L954.5 837.7 L957.5 838.2 L960.5 838.7 L963.5 839.2 L966.5 839.6 L969.5 840.1 L972.5 840.5 L975.5 841.0 L978.5 841.4 L981.5 841.8 L984.5 842.2 L987.5 842.6 L990.5 843.0 L993.5 843.4 L996.5 843.8 L999.5 844.2 L1002.5 844.5 L1005.5 844.9 L1008.5 845.2 L1011.5 845.6 L1014.5 845.9 L1017.5 846.2 L1020.5 846.5 L1023.5 846.8 L1026.5 847.1 L1029.5 847.4 L1032.5 847.7 L1035.5 848.0 L1038.5 848.3 L1041.5 848.5 L1044.5 848.8 L1047.5 849.1 L1050.5 849.3 L1053.5 849.6 L1056.5 849.8 L1059.5 850.0 L1062.5 850.3 L1065.5 850.5 L1068.5 850.7 L1071.5 850.9 L1074.5 851.1 L1077.5 851.3 L1080.5 851.5 L1083.5 851.7 L1086.5 851.9 L1089.5 852.1 L1092.5 852.2 L1095.5 852.4 L1098.5 852.6 L1101.5 852.7 L1104.5 852.9 L1107.5 853.0 L1110.5 853.2 L1113.5 853.3 L1116.5 853.5 L1119.5 853.6 L1122.5 853.8 L1125.5 853.9 L1128.5 854.0 L1131.5 854.1 L1134.5 854.3 L1137.5 854.4 L1140.5 854.5 L1143.5 854.6 L1146.5 854.7 L1149.5 854.8 L1152.5 854.9 L1155.5 855.0 L1158.5 855.1 L1161.5 855.2 L1164.5 855.3 L1167.5 855.4 L1170.5 855.5 L1173.5 855.6 L1176.5 855.7 L1179.5 855.8 L1182.5 855.9 L1185.5 855.9 L1188.5 856.0 L1191.5 856.1 L1194.5 856.2 L1197.5 856.3 L1200.5 856.3 L1203.5 856.4 L1206.5 856.5 L1209.5 856.5 L1212.5 856.6 L1215.5 856.7 L1218.5 856.8 L1221.5 856.8 L1224.5 856.9 L1227.5 856.9 L1230.5 857.0 L1233.5 857.1 L1236.5 857.1 L1239.5 857.2 L1242.5 857.3 L1245.5 857.3 L1248.5 857.4 L1251.5 857.4 L1254.5 857.5 L1257.5 857.5 L1260.5 857.6 L1263.5 857.6 L1266.5 857.7 L1269.5 857.7 L1272.5 857.8 L1275.5 857.8 L1278.5 857.9 L1281.5 857.9 L1284.5 858.0 L1287.5 858.0 L1290.5 858.0 L1293.5 858.1 L1294.9 858.1 L1305.9 859.4"/>
<path class="ln" stroke="#BE00AC" d="M216.5 218.9 L219.5 220.8 L222.5 222.7 L225.5 224.7 L228.5 226.7 L231.5 228.7 L234.5 230.8 L237.5 232.9 L240.5 235.0 L243.5 237.1 L246.5 239.3 L249.5 241.5 L252.5 243.8 L255.5 246.0 L258.5 248.3 L261.5 250.6 L264.5 253.0 L267.5 255.3 L270.5 257.7 L273.5 260.2 L276.5 262.6 L279.5 265.1 L282.5 267.6 L285.5 270.1 L288.5 272.6 L291.5 275.2 L294.5 277.8 L297.5 280.4 L300.5 283.0 L303.5 285.7 L306.5 288.4 L309.5 291.1 L312.5 293.8 L315.5 296.6 L318.5 299.3 L321.5 302.1 L324.5 304.9 L327.5 307.8 L330.5 310.6 L333.5 313.5 L336.5 316.3 L339.5 319.2 L342.5 322.2 L345.5 325.1 L348.5 328.0 L351.5 331.0 L354.5 334.0 L357.5 337.0 L360.5 340.0 L363.5 343.0 L366.5 346.1 L369.5 349.2 L372.5 352.2 L375.5 355.3 L378.5 358.4 L381.5 361.5 L384.5 364.6 L387.5 367.8 L390.5 370.9 L393.5 374.1 L396.5 377.3 L399.5 380.4 L402.5 383.6 L405.5 386.8 L408.5 390.0 L411.5 393.3 L414.5 396.5 L417.5 399.7 L420.5 403.0 L423.5 406.2 L426.5 409.5 L429.5 412.8 L432.5 416.0 L435.5 419.3 L438.5 422.6 L441.5 425.9 L444.5 429.2 L447.5 432.5 L450.5 435.8 L453.5 439.1 L456.5 442.5 L459.5 445.8 L462.5 449.1 L465.5 452.4 L468.5 455.8 L471.5 459.1 L474.5 462.4 L477.5 465.8 L480.5 469.1 L483.5 472.5 L486.5 475.8 L489.5 479.1 L492.5 482.5 L495.5 485.8 L498.5 489.2 L501.5 492.5 L504.5 495.9 L507.5 499.2 L510.5 502.6 L513.5 505.9 L516.5 509.2 L519.5 512.6 L522.5 515.9 L525.5 519.2 L528.5 522.5 L531.5 525.9 L534.5 529.2 L537.5 532.5 L540.5 535.8 L543.5 539.1 L546.5 542.4 L549.5 545.7 L552.5 549.0 L555.5 552.3 L558.5 555.5 L561.5 558.8 L564.5 562.1 L567.5 565.3 L570.5 568.6 L573.5 571.8 L576.5 575.0 L579.5 578.2 L582.5 581.5 L585.5 584.7 L588.5 587.8 L591.5 591.0 L594.5 594.2 L597.5 597.4 L600.5 600.5 L603.5 603.6 L606.5 606.8 L609.5 609.9 L612.5 613.0 L615.5 616.1 L618.5 619.1 L621.5 622.2 L624.5 625.3 L627.5 628.3 L630.5 631.3 L633.5 634.3 L636.5 637.3 L639.5 640.3 L642.5 643.2 L645.5 646.2 L648.5 649.1 L651.5 652.0 L654.5 654.9 L657.5 657.8 L660.5 660.6 L663.5 663.5 L666.5 666.3 L669.5 669.1 L672.5 671.9 L675.5 674.7 L678.5 677.4 L681.5 680.1 L684.5 682.8 L687.5 685.5 L690.5 688.2 L693.5 690.8 L696.5 693.5 L699.5 696.1 L702.5 698.6 L705.5 701.2 L708.5 703.7 L711.5 706.2 L714.5 708.7 L717.5 711.2 L720.5 713.6 L723.5 716.1 L726.5 718.5 L729.5 720.8 L732.5 723.2 L735.5 725.5 L738.5 727.8 L741.5 730.1 L744.5 732.3 L747.5 734.6 L750.5 736.8 L753.5 739.0 L756.5 741.1 L759.5 743.2 L762.5 745.3 L765.5 747.4 L768.5 749.5 L771.5 751.5 L774.5 753.5 L777.5 755.4 L780.5 757.4 L783.5 759.3 L786.5 761.2 L789.5 763.1 L792.5 764.9 L795.5 766.7 L798.5 768.5 L801.5 770.3 L804.5 772.0 L807.5 773.7 L810.5 775.4 L813.5 777.1 L816.5 778.7 L819.5 780.3 L822.5 781.9 L825.5 783.5 L828.5 785.0 L831.5 786.5 L834.5 788.0 L837.5 789.5 L840.5 790.9 L843.5 792.3 L846.5 793.7 L849.5 795.0 L852.5 796.4 L855.5 797.7 L858.5 799.0 L861.5 800.2 L864.5 801.5 L867.5 802.7 L870.5 803.9 L873.5 805.1 L876.5 806.2 L879.5 807.4 L882.5 808.5 L885.5 809.6 L888.5 810.6 L891.5 811.7 L894.5 812.7 L897.5 813.7 L900.5 814.7 L903.5 815.7 L906.5 816.6 L909.5 817.6 L912.5 818.5 L915.5 819.4 L918.5 820.3 L921.5 821.1 L924.5 822.0 L927.5 822.8 L930.5 823.6 L933.5 824.4 L936.5 825.2 L939.5 825.9 L942.5 826.7 L945.5 827.4 L948.5 828.1 L951.5 828.8 L954.5 829.5 L957.5 830.2 L960.5 830.8 L963.5 831.5 L966.5 832.1 L969.5 832.7 L972.5 833.3 L975.5 833.9 L978.5 834.5 L981.5 835.1 L984.5 835.7 L987.5 836.2 L990.5 836.7 L993.5 837.3 L996.5 837.8 L999.5 838.3 L1002.5 838.8 L1005.5 839.3 L1008.5 839.7 L1011.5 840.2 L1014.5 840.7 L1017.5 841.1 L1020.5 841.5 L1023.5 842.0 L1026.5 842.4 L1029.5 842.8 L1032.5 843.2 L1035.5 843.6 L1038.5 844.0 L1041.5 844.4 L1044.5 844.7 L1047.5 845.1 L1050.5 845.4 L1053.5 845.8 L1056.5 846.1 L1059.5 846.5 L1062.5 846.8 L1065.5 847.1 L1068.5 847.4 L1071.5 847.7 L1074.5 848.0 L1077.5 848.3 L1080.5 848.6 L1083.5 848.9 L1086.5 849.1 L1089.5 849.4 L1092.5 849.7 L1095.5 849.9 L1098.5 850.2 L1101.5 850.4 L1104.5 850.7 L1107.5 850.9 L1110.5 851.1 L1113.5 851.3 L1116.5 851.5 L1119.5 851.8 L1122.5 852.0 L1125.5 852.2 L1128.5 852.3 L1131.5 852.5 L1134.5 852.7 L1137.5 852.9 L1140.5 853.1 L1143.5 853.2 L1146.5 853.4 L1149.5 853.6 L1152.5 853.7 L1155.5 853.9 L1158.5 854.0 L1161.5 854.2 L1164.5 854.3 L1167.5 854.4 L1170.5 854.5 L1173.5 854.7 L1176.5 854.8 L1179.5 854.9 L1182.5 855.0 L1185.5 855.1 L1188.5 855.2 L1191.5 855.3 L1194.5 855.4 L1197.5 855.5 L1200.5 855.6 L1203.5 855.7 L1206.5 855.8 L1209.5 855.9 L1212.5 856.0 L1215.5 856.0 L1218.5 856.1 L1221.5 856.2 L1224.5 856.3 L1227.5 856.3 L1230.5 856.4 L1233.5 856.5 L1236.5 856.5 L1239.5 856.6 L1242.5 856.6 L1245.5 856.7 L1248.5 856.7 L1251.5 856.8 L1254.5 856.8 L1257.5 856.9 L1260.5 856.9 L1263.5 857.0 L1266.5 857.0 L1269.5 857.1 L1272.5 857.1 L1275.5 857.2 L1278.5 857.2 L1281.5 857.3 L1284.5 857.3 L1287.5 857.3 L1290.5 857.4 L1293.5 857.4 L1294.9 857.4 L1305.9 859.4"/>
<path class="ln" stroke="#000000" d="M216.5 911.2 L219.5 910.9 L222.5 910.6 L225.5 910.2 L228.5 909.8 L231.5 909.5 L234.5 909.1 L237.5 908.7 L240.5 908.3 L243.5 907.9 L246.5 907.5 L249.5 907.1 L252.5 906.7 L255.5 906.3 L258.5 905.8 L261.5 905.4 L264.5 904.9 L267.5 904.4 L270.5 903.9 L273.5 903.4 L276.5 902.9 L279.5 902.4 L282.5 901.9 L285.5 901.3 L288.5 900.8 L291.5 900.2 L294.5 899.6 L297.5 899.0 L300.5 898.4 L303.5 897.8 L306.5 897.2 L309.5 896.5 L312.5 895.9 L315.5 895.2 L318.5 894.5 L321.5 893.8 L324.5 893.1 L327.5 892.4 L330.5 891.6 L333.5 890.9 L336.5 890.1 L339.5 889.3 L342.5 888.5 L345.5 887.7 L348.5 886.9 L351.5 886.0 L354.5 885.2 L357.5 884.3 L360.5 883.4 L363.5 882.5 L366.5 881.6 L369.5 880.7 L372.5 879.8 L375.5 878.8 L378.5 877.9 L381.5 876.9 L384.5 875.9 L387.5 874.9 L390.5 873.9 L393.5 872.9 L396.5 871.9 L399.5 870.9 L402.5 869.8 L405.5 868.8 L408.5 867.7 L411.5 866.6 L414.5 865.6 L417.5 864.5 L420.5 863.4 L423.5 862.3 L426.5 861.2 L429.5 860.1 L432.5 859.0 L435.5 857.9 L438.5 856.8 L441.5 855.7 L444.5 854.5 L447.5 853.4 L450.5 852.3 L453.5 851.2 L456.5 850.0 L459.5 848.9 L462.5 847.8 L465.5 846.7 L468.5 845.6 L471.5 844.5 L474.5 843.3 L477.5 842.2 L480.5 841.1 L483.5 840.0 L486.5 839.0 L489.5 837.9 L492.5 836.8 L495.5 835.7 L498.5 834.7 L501.5 833.7 L504.5 832.6 L507.5 831.6 L510.5 830.6 L513.5 829.6 L516.5 828.6 L519.5 827.6 L522.5 826.7 L525.5 825.7 L528.5 824.8 L531.5 823.9 L534.5 823.0 L537.5 822.2 L540.5 821.3 L543.5 820.5 L546.5 819.6 L549.5 818.8 L552.5 818.1 L555.5 817.3 L558.5 816.6 L561.5 815.8 L564.5 815.1 L567.5 814.5 L570.5 813.8 L573.5 813.2 L576.5 812.6 L579.5 812.0 L582.5 811.4 L585.5 810.9 L588.5 810.4 L591.5 809.9 L594.5 809.4 L597.5 808.9 L600.5 808.5 L603.5 808.1 L606.5 807.8 L609.5 807.4 L612.5 807.1 L615.5 806.8 L618.5 806.5 L621.5 806.3 L624.5 806.0 L627.5 805.8 L630.5 805.7 L633.5 805.5 L636.5 805.4 L639.5 805.3 L642.5 805.2 L645.5 805.1 L648.5 805.1 L651.5 805.1 L654.5 805.1 L657.5 805.1 L660.5 805.2 L663.5 805.3 L666.5 805.4 L669.5 805.5 L672.5 805.6 L675.5 805.8 L678.5 806.0 L681.5 806.2 L684.5 806.4 L687.5 806.6 L690.5 806.9 L693.5 807.1 L696.5 807.4 L699.5 807.7 L702.5 808.1 L705.5 808.4 L708.5 808.7 L711.5 809.1 L714.5 809.5 L717.5 809.9 L720.5 810.3 L723.5 810.7 L726.5 811.1 L729.5 811.5 L732.5 812.0 L735.5 812.4 L738.5 812.9 L741.5 813.4 L744.5 813.9 L747.5 814.4 L750.5 814.9 L753.5 815.4 L756.5 815.9 L759.5 816.4 L762.5 816.9 L765.5 817.4 L768.5 818.0 L771.5 818.5 L774.5 819.0 L777.5 819.6 L780.5 820.1 L783.5 820.7 L786.5 821.2 L789.5 821.8 L792.5 822.3 L795.5 822.9 L798.5 823.4 L801.5 823.9 L804.5 824.5 L807.5 825.0 L810.5 825.6 L813.5 826.1 L816.5 826.6 L819.5 827.2 L822.5 827.7 L825.5 828.2 L828.5 828.8 L831.5 829.3 L834.5 829.8 L837.5 830.3 L840.5 830.8 L843.5 831.3 L846.5 831.8 L849.5 832.3 L852.5 832.8 L855.5 833.3 L858.5 833.8 L861.5 834.2 L864.5 834.7 L867.5 835.2 L870.5 835.6 L873.5 836.1 L876.5 836.5 L879.5 836.9 L882.5 837.4 L885.5 837.8 L888.5 838.2 L891.5 838.6 L894.5 839.1 L897.5 839.5 L900.5 839.9 L903.5 840.2 L906.5 840.6 L909.5 841.0 L912.5 841.4 L915.5 841.7 L918.5 842.1 L921.5 842.5 L924.5 842.8 L927.5 843.2 L930.5 843.5 L933.5 843.8 L936.5 844.2 L939.5 844.5 L942.5 844.8 L945.5 845.1 L948.5 845.4 L951.5 845.7 L954.5 846.0 L957.5 846.3 L960.5 846.6 L963.5 846.9 L966.5 847.1 L969.5 847.4 L972.5 847.7 L975.5 847.9 L978.5 848.2 L981.5 848.4 L984.5 848.7 L987.5 848.9 L990.5 849.2 L993.5 849.4 L996.5 849.6 L999.5 849.9 L1002.5 850.1 L1005.5 850.3 L1008.5 850.5 L1011.5 850.7 L1014.5 850.9 L1017.5 851.1 L1020.5 851.3 L1023.5 851.5 L1026.5 851.7 L1029.5 851.9 L1032.5 852.1 L1035.5 852.3 L1038.5 852.5 L1041.5 852.6 L1044.5 852.8 L1047.5 853.0 L1050.5 853.1 L1053.5 853.3 L1056.5 853.4 L1059.5 853.6 L1062.5 853.7 L1065.5 853.9 L1068.5 854.0 L1071.5 854.2 L1074.5 854.3 L1077.5 854.4 L1080.5 854.6 L1083.5 854.7 L1086.5 854.8 L1089.5 854.9 L1092.5 855.1 L1095.5 855.2 L1098.5 855.3 L1101.5 855.4 L1104.5 855.5 L1107.5 855.6 L1110.5 855.7 L1113.5 855.8 L1116.5 855.9 L1119.5 856.0 L1122.5 856.1 L1125.5 856.1 L1128.5 856.2 L1131.5 856.3 L1134.5 856.4 L1137.5 856.5 L1140.5 856.5 L1143.5 856.6 L1146.5 856.7 L1149.5 856.7 L1152.5 856.8 L1155.5 856.9 L1158.5 856.9 L1161.5 857.0 L1164.5 857.1 L1167.5 857.1 L1170.5 857.2 L1173.5 857.2 L1176.5 857.3 L1179.5 857.3 L1182.5 857.4 L1185.5 857.4 L1188.5 857.5 L1191.5 857.5 L1194.5 857.5 L1197.5 857.6 L1200.5 857.6 L1203.5 857.7 L1206.5 857.7 L1209.5 857.7 L1212.5 857.8 L1215.5 857.8 L1218.5 857.8 L1221.5 857.9 L1224.5 857.9 L1227.5 857.9 L1230.5 858.0 L1233.5 858.0 L1236.5 858.0 L1239.5 858.1 L1242.5 858.1 L1245.5 858.1 L1248.5 858.2 L1251.5 858.2 L1254.5 858.2 L1257.5 858.3 L1260.5 858.3 L1263.5 858.3 L1266.5 858.3 L1269.5 858.4 L1272.5 858.4 L1275.5 858.4 L1278.5 858.5 L1281.5 858.5 L1284.5 858.5 L1287.5 858.6 L1290.5 858.6 L1293.5 858.7 L1294.9 858.7 L1305.9 859.4"/>
<path class="ln" stroke="#D63658" d="M216.5 864.0 L219.5 863.4 L222.5 862.8 L225.5 862.2 L228.5 861.5 L231.5 860.9 L234.5 860.3 L237.5 859.7 L240.5 859.0 L243.5 858.4 L246.5 857.8 L249.5 857.1 L252.5 856.5 L255.5 855.9 L258.5 855.2 L261.5 854.6 L264.5 854.0 L267.5 853.3 L270.5 852.7 L273.5 852.0 L276.5 851.3 L279.5 850.7 L282.5 850.0 L285.5 849.3 L288.5 848.6 L291.5 848.0 L294.5 847.3 L297.5 846.6 L300.5 845.9 L303.5 845.2 L306.5 844.5 L309.5 843.7 L312.5 843.0 L315.5 842.3 L318.5 841.6 L321.5 840.8 L324.5 840.1 L327.5 839.3 L330.5 838.6 L333.5 837.8 L336.5 837.0 L339.5 836.2 L342.5 835.4 L345.5 834.6 L348.5 833.8 L351.5 833.0 L354.5 832.2 L357.5 831.4 L360.5 830.6 L363.5 829.8 L366.5 828.9 L369.5 828.1 L372.5 827.2 L375.5 826.4 L378.5 825.5 L381.5 824.7 L384.5 823.8 L387.5 822.9 L390.5 822.1 L393.5 821.2 L396.5 820.3 L399.5 819.4 L402.5 818.5 L405.5 817.6 L408.5 816.7 L411.5 815.9 L414.5 815.0 L417.5 814.1 L420.5 813.2 L423.5 812.3 L426.5 811.4 L429.5 810.5 L432.5 809.6 L435.5 808.7 L438.5 807.8 L441.5 806.9 L444.5 806.0 L447.5 805.2 L450.5 804.3 L453.5 803.4 L456.5 802.6 L459.5 801.7 L462.5 800.8 L465.5 800.0 L468.5 799.2 L471.5 798.3 L474.5 797.5 L477.5 796.7 L480.5 795.9 L483.5 795.1 L486.5 794.3 L489.5 793.5 L492.5 792.8 L495.5 792.0 L498.5 791.3 L501.5 790.6 L504.5 789.9 L507.5 789.2 L510.5 788.5 L513.5 787.8 L516.5 787.2 L519.5 786.6 L522.5 785.9 L525.5 785.3 L528.5 784.8 L531.5 784.2 L534.5 783.7 L537.5 783.2 L540.5 782.7 L543.5 782.2 L546.5 781.7 L549.5 781.3 L552.5 780.8 L555.5 780.5 L558.5 780.1 L561.5 779.7 L564.5 779.4 L567.5 779.1 L570.5 778.8 L573.5 778.5 L576.5 778.3 L579.5 778.1 L582.5 777.9 L585.5 777.7 L588.5 777.6 L591.5 777.5 L594.5 777.4 L597.5 777.3 L600.5 777.2 L603.5 777.2 L606.5 777.2 L609.5 777.2 L612.5 777.3 L615.5 777.4 L618.5 777.5 L621.5 777.6 L624.5 777.7 L627.5 777.9 L630.5 778.1 L633.5 778.3 L636.5 778.5 L639.5 778.8 L642.5 779.1 L645.5 779.4 L648.5 779.7 L651.5 780.0 L654.5 780.4 L657.5 780.8 L660.5 781.2 L663.5 781.6 L666.5 782.1 L669.5 782.5 L672.5 783.0 L675.5 783.5 L678.5 784.0 L681.5 784.6 L684.5 785.1 L687.5 785.7 L690.5 786.3 L693.5 786.9 L696.5 787.5 L699.5 788.1 L702.5 788.8 L705.5 789.4 L708.5 790.1 L711.5 790.7 L714.5 791.4 L717.5 792.1 L720.5 792.8 L723.5 793.6 L726.5 794.3 L729.5 795.0 L732.5 795.7 L735.5 796.5 L738.5 797.2 L741.5 798.0 L744.5 798.8 L747.5 799.5 L750.5 800.3 L753.5 801.1 L756.5 801.9 L759.5 802.6 L762.5 803.4 L765.5 804.2 L768.5 805.0 L771.5 805.8 L774.5 806.5 L777.5 807.3 L780.5 808.1 L783.5 808.9 L786.5 809.6 L789.5 810.4 L792.5 811.2 L795.5 812.0 L798.5 812.7 L801.5 813.5 L804.5 814.2 L807.5 815.0 L810.5 815.7 L813.5 816.4 L816.5 817.2 L819.5 817.9 L822.5 818.6 L825.5 819.3 L828.5 820.0 L831.5 820.7 L834.5 821.4 L837.5 822.1 L840.5 822.8 L843.5 823.4 L846.5 824.1 L849.5 824.7 L852.5 825.4 L855.5 826.0 L858.5 826.6 L861.5 827.3 L864.5 827.9 L867.5 828.5 L870.5 829.1 L873.5 829.6 L876.5 830.2 L879.5 830.8 L882.5 831.3 L885.5 831.9 L888.5 832.4 L891.5 832.9 L894.5 833.5 L897.5 834.0 L900.5 834.5 L903.5 835.0 L906.5 835.5 L909.5 836.0 L912.5 836.4 L915.5 836.9 L918.5 837.3 L921.5 837.8 L924.5 838.2 L927.5 838.7 L930.5 839.1 L933.5 839.5 L936.5 839.9 L939.5 840.3 L942.5 840.7 L945.5 841.1 L948.5 841.5 L951.5 841.9 L954.5 842.2 L957.5 842.6 L960.5 843.0 L963.5 843.3 L966.5 843.7 L969.5 844.0 L972.5 844.3 L975.5 844.7 L978.5 845.0 L981.5 845.3 L984.5 845.6 L987.5 845.9 L990.5 846.2 L993.5 846.5 L996.5 846.8 L999.5 847.1 L1002.5 847.4 L1005.5 847.6 L1008.5 847.9 L1011.5 848.2 L1014.5 848.4 L1017.5 848.7 L1020.5 848.9 L1023.5 849.2 L1026.5 849.4 L1029.5 849.7 L1032.5 849.9 L1035.5 850.1 L1038.5 850.4 L1041.5 850.6 L1044.5 850.8 L1047.5 851.0 L1050.5 851.2 L1053.5 851.4 L1056.5 851.6 L1059.5 851.8 L1062.5 852.0 L1065.5 852.2 L1068.5 852.4 L1071.5 852.6 L1074.5 852.7 L1077.5 852.9 L1080.5 853.1 L1083.5 853.2 L1086.5 853.4 L1089.5 853.5 L1092.5 853.7 L1095.5 853.8 L1098.5 854.0 L1101.5 854.1 L1104.5 854.3 L1107.5 854.4 L1110.5 854.5 L1113.5 854.7 L1116.5 854.8 L1119.5 854.9 L1122.5 855.0 L1125.5 855.1 L1128.5 855.2 L1131.5 855.3 L1134.5 855.4 L1137.5 855.5 L1140.5 855.6 L1143.5 855.7 L1146.5 855.8 L1149.5 855.9 L1152.5 856.0 L1155.5 856.1 L1158.5 856.1 L1161.5 856.2 L1164.5 856.3 L1167.5 856.4 L1170.5 856.4 L1173.5 856.5 L1176.5 856.6 L1179.5 856.6 L1182.5 856.7 L1185.5 856.7 L1188.5 856.8 L1191.5 856.9 L1194.5 856.9 L1197.5 857.0 L1200.5 857.0 L1203.5 857.1 L1206.5 857.1 L1209.5 857.1 L1212.5 857.2 L1215.5 857.2 L1218.5 857.3 L1221.5 857.3 L1224.5 857.4 L1227.5 857.4 L1230.5 857.5 L1233.5 857.5 L1236.5 857.5 L1239.5 857.6 L1242.5 857.6 L1245.5 857.7 L1248.5 857.7 L1251.5 857.7 L1254.5 857.8 L1257.5 857.8 L1260.5 857.9 L1263.5 857.9 L1266.5 858.0 L1269.5 858.0 L1272.5 858.0 L1275.5 858.1 L1278.5 858.1 L1281.5 858.2 L1284.5 858.2 L1287.5 858.3 L1290.5 858.3 L1293.5 858.4 L1294.9 858.4 L1305.9 859.4"/>
<path class="ln" stroke="#45C22E" d="M216.5 658.1 L219.5 656.3 L222.5 654.5 L225.5 652.8 L228.5 651.1 L231.5 649.3 L234.5 647.6 L237.5 645.9 L240.5 644.2 L243.5 642.5 L246.5 640.8 L249.5 639.2 L252.5 637.5 L255.5 635.9 L258.5 634.3 L261.5 632.7 L264.5 631.1 L267.5 629.6 L270.5 628.0 L273.5 626.5 L276.5 625.0 L279.5 623.6 L282.5 622.1 L285.5 620.7 L288.5 619.3 L291.5 617.9 L294.5 616.5 L297.5 615.2 L300.5 613.9 L303.5 612.6 L306.5 611.4 L309.5 610.1 L312.5 609.0 L315.5 607.8 L318.5 606.7 L321.5 605.5 L324.5 604.5 L327.5 603.4 L330.5 602.4 L333.5 601.4 L336.5 600.5 L339.5 599.6 L342.5 598.7 L345.5 597.9 L348.5 597.1 L351.5 596.3 L354.5 595.5 L357.5 594.8 L360.5 594.2 L363.5 593.5 L366.5 592.9 L369.5 592.4 L372.5 591.8 L375.5 591.4 L378.5 590.9 L381.5 590.5 L384.5 590.1 L387.5 589.8 L390.5 589.5 L393.5 589.2 L396.5 589.0 L399.5 588.8 L402.5 588.7 L405.5 588.6 L408.5 588.5 L411.5 588.5 L414.5 588.5 L417.5 588.5 L420.5 588.6 L423.5 588.7 L426.5 588.9 L429.5 589.1 L432.5 589.3 L435.5 589.6 L438.5 589.9 L441.5 590.2 L444.5 590.6 L447.5 591.0 L450.5 591.5 L453.5 592.0 L456.5 592.5 L459.5 593.1 L462.5 593.7 L465.5 594.3 L468.5 595.0 L471.5 595.7 L474.5 596.5 L477.5 597.2 L480.5 598.1 L483.5 598.9 L486.5 599.8 L489.5 600.7 L492.5 601.6 L495.5 602.6 L498.5 603.6 L501.5 604.7 L504.5 605.8 L507.5 606.9 L510.5 608.0 L513.5 609.2 L516.5 610.3 L519.5 611.6 L522.5 612.8 L525.5 614.1 L528.5 615.4 L531.5 616.7 L534.5 618.1 L537.5 619.5 L540.5 620.9 L543.5 622.3 L546.5 623.8 L549.5 625.3 L552.5 626.8 L555.5 628.3 L558.5 629.9 L561.5 631.5 L564.5 633.1 L567.5 634.7 L570.5 636.3 L573.5 638.0 L576.5 639.6 L579.5 641.3 L582.5 643.1 L585.5 644.8 L588.5 646.5 L591.5 648.3 L594.5 650.1 L597.5 651.9 L600.5 653.7 L603.5 655.5 L606.5 657.4 L609.5 659.2 L612.5 661.1 L615.5 663.0 L618.5 664.9 L621.5 666.8 L624.5 668.7 L627.5 670.6 L630.5 672.5 L633.5 674.5 L636.5 676.4 L639.5 678.4 L642.5 680.3 L645.5 682.3 L648.5 684.3 L651.5 686.2 L654.5 688.2 L657.5 690.2 L660.5 692.2 L663.5 694.2 L666.5 696.2 L669.5 698.2 L672.5 700.2 L675.5 702.2 L678.5 704.1 L681.5 706.1 L684.5 708.1 L687.5 710.1 L690.5 712.1 L693.5 714.1 L696.5 716.1 L699.5 718.0 L702.5 720.0 L705.5 722.0 L708.5 723.9 L711.5 725.9 L714.5 727.8 L717.5 729.7 L720.5 731.7 L723.5 733.6 L726.5 735.5 L729.5 737.4 L732.5 739.3 L735.5 741.1 L738.5 743.0 L741.5 744.8 L744.5 746.7 L747.5 748.5 L750.5 750.3 L753.5 752.1 L756.5 753.9 L759.5 755.6 L762.5 757.4 L765.5 759.1 L768.5 760.8 L771.5 762.5 L774.5 764.2 L777.5 765.9 L780.5 767.6 L783.5 769.2 L786.5 770.8 L789.5 772.4 L792.5 774.0 L795.5 775.5 L798.5 777.1 L801.5 778.6 L804.5 780.1 L807.5 781.6 L810.5 783.0 L813.5 784.5 L816.5 785.9 L819.5 787.3 L822.5 788.7 L825.5 790.0 L828.5 791.4 L831.5 792.7 L834.5 794.0 L837.5 795.3 L840.5 796.6 L843.5 797.8 L846.5 799.0 L849.5 800.2 L852.5 801.4 L855.5 802.6 L858.5 803.7 L861.5 804.8 L864.5 805.9 L867.5 807.0 L870.5 808.1 L873.5 809.1 L876.5 810.1 L879.5 811.1 L882.5 812.1 L885.5 813.1 L888.5 814.0 L891.5 815.0 L894.5 815.9 L897.5 816.8 L900.5 817.7 L903.5 818.5 L906.5 819.4 L909.5 820.2 L912.5 821.0 L915.5 821.8 L918.5 822.6 L921.5 823.4 L924.5 824.2 L927.5 824.9 L930.5 825.6 L933.5 826.3 L936.5 827.0 L939.5 827.7 L942.5 828.4 L945.5 829.1 L948.5 829.7 L951.5 830.4 L954.5 831.0 L957.5 831.6 L960.5 832.2 L963.5 832.8 L966.5 833.4 L969.5 833.9 L972.5 834.5 L975.5 835.0 L978.5 835.6 L981.5 836.1 L984.5 836.6 L987.5 837.1 L990.5 837.7 L993.5 838.1 L996.5 838.6 L999.5 839.1 L1002.5 839.6 L1005.5 840.0 L1008.5 840.5 L1011.5 840.9 L1014.5 841.4 L1017.5 841.8 L1020.5 842.2 L1023.5 842.6 L1026.5 843.0 L1029.5 843.4 L1032.5 843.8 L1035.5 844.2 L1038.5 844.6 L1041.5 844.9 L1044.5 845.3 L1047.5 845.6 L1050.5 846.0 L1053.5 846.3 L1056.5 846.7 L1059.5 847.0 L1062.5 847.3 L1065.5 847.6 L1068.5 847.9 L1071.5 848.2 L1074.5 848.5 L1077.5 848.8 L1080.5 849.1 L1083.5 849.4 L1086.5 849.6 L1089.5 849.9 L1092.5 850.1 L1095.5 850.4 L1098.5 850.6 L1101.5 850.9 L1104.5 851.1 L1107.5 851.3 L1110.5 851.5 L1113.5 851.8 L1116.5 852.0 L1119.5 852.2 L1122.5 852.4 L1125.5 852.5 L1128.5 852.7 L1131.5 852.9 L1134.5 853.1 L1137.5 853.3 L1140.5 853.4 L1143.5 853.6 L1146.5 853.7 L1149.5 853.9 L1152.5 854.0 L1155.5 854.2 L1158.5 854.3 L1161.5 854.4 L1164.5 854.5 L1167.5 854.7 L1170.5 854.8 L1173.5 854.9 L1176.5 855.0 L1179.5 855.1 L1182.5 855.2 L1185.5 855.3 L1188.5 855.4 L1191.5 855.5 L1194.5 855.6 L1197.5 855.6 L1200.5 855.7 L1203.5 855.8 L1206.5 855.9 L1209.5 855.9 L1212.5 856.0 L1215.5 856.1 L1218.5 856.1 L1221.5 856.2 L1224.5 856.3 L1227.5 856.3 L1230.5 856.4 L1233.5 856.4 L1236.5 856.5 L1239.5 856.5 L1242.5 856.6 L1245.5 856.6 L1248.5 856.7 L1251.5 856.7 L1254.5 856.8 L1257.5 856.8 L1260.5 856.9 L1263.5 856.9 L1266.5 857.0 L1269.5 857.0 L1272.5 857.1 L1275.5 857.1 L1278.5 857.2 L1281.5 857.2 L1284.5 857.3 L1287.5 857.4 L1290.5 857.4 L1293.5 857.5 L1294.9 857.5 L1305.9 859.4"/>
<path class="ln" stroke="#0E76DC" d="M216.5 728.7 L219.5 726.7 L222.5 724.7 L225.5 722.7 L228.5 720.6 L231.5 718.6 L234.5 716.6 L237.5 714.5 L240.5 712.5 L243.5 710.4 L246.5 708.4 L249.5 706.4 L252.5 704.3 L255.5 702.3 L258.5 700.3 L261.5 698.3 L264.5 696.3 L267.5 694.3 L270.5 692.3 L273.5 690.3 L276.5 688.3 L279.5 686.4 L282.5 684.4 L285.5 682.5 L288.5 680.6 L291.5 678.7 L294.5 676.8 L297.5 674.9 L300.5 673.0 L303.5 671.2 L306.5 669.4 L309.5 667.6 L312.5 665.8 L315.5 664.1 L318.5 662.3 L321.5 660.6 L324.5 658.9 L327.5 657.3 L330.5 655.7 L333.5 654.1 L336.5 652.5 L339.5 650.9 L342.5 649.4 L345.5 647.9 L348.5 646.5 L351.5 645.1 L354.5 643.7 L357.5 642.3 L360.5 641.0 L363.5 639.7 L366.5 638.5 L369.5 637.3 L372.5 636.1 L375.5 634.9 L378.5 633.8 L381.5 632.8 L384.5 631.8 L387.5 630.8 L390.5 629.8 L393.5 628.9 L396.5 628.1 L399.5 627.2 L402.5 626.5 L405.5 625.7 L408.5 625.0 L411.5 624.4 L414.5 623.7 L417.5 623.2 L420.5 622.7 L423.5 622.2 L426.5 621.7 L429.5 621.3 L432.5 621.0 L435.5 620.7 L438.5 620.4 L441.5 620.2 L444.5 620.0 L447.5 619.9 L450.5 619.8 L453.5 619.7 L456.5 619.7 L459.5 619.8 L462.5 619.9 L465.5 620.0 L468.5 620.2 L471.5 620.4 L474.5 620.6 L477.5 620.9 L480.5 621.3 L483.5 621.6 L486.5 622.1 L489.5 622.5 L492.5 623.0 L495.5 623.6 L498.5 624.2 L501.5 624.8 L504.5 625.4 L507.5 626.2 L510.5 626.9 L513.5 627.7 L516.5 628.5 L519.5 629.3 L522.5 630.2 L525.5 631.1 L528.5 632.1 L531.5 633.1 L534.5 634.1 L537.5 635.2 L540.5 636.2 L543.5 637.4 L546.5 638.5 L549.5 639.7 L552.5 640.9 L555.5 642.2 L558.5 643.4 L561.5 644.7 L564.5 646.1 L567.5 647.4 L570.5 648.8 L573.5 650.2 L576.5 651.6 L579.5 653.1 L582.5 654.6 L585.5 656.1 L588.5 657.6 L591.5 659.1 L594.5 660.7 L597.5 662.3 L600.5 663.9 L603.5 665.5 L606.5 667.1 L609.5 668.8 L612.5 670.5 L615.5 672.2 L618.5 673.9 L621.5 675.6 L624.5 677.3 L627.5 679.1 L630.5 680.8 L633.5 682.6 L636.5 684.4 L639.5 686.2 L642.5 688.0 L645.5 689.8 L648.5 691.6 L651.5 693.4 L654.5 695.3 L657.5 697.1 L660.5 698.9 L663.5 700.8 L666.5 702.7 L669.5 704.5 L672.5 706.4 L675.5 708.2 L678.5 710.1 L681.5 712.0 L684.5 713.9 L687.5 715.7 L690.5 717.6 L693.5 719.5 L696.5 721.3 L699.5 723.2 L702.5 725.1 L705.5 726.9 L708.5 728.8 L711.5 730.6 L714.5 732.5 L717.5 734.3 L720.5 736.1 L723.5 738.0 L726.5 739.8 L729.5 741.6 L732.5 743.4 L735.5 745.2 L738.5 747.0 L741.5 748.7 L744.5 750.5 L747.5 752.2 L750.5 754.0 L753.5 755.7 L756.5 757.4 L759.5 759.1 L762.5 760.8 L765.5 762.5 L768.5 764.1 L771.5 765.8 L774.5 767.4 L777.5 769.0 L780.5 770.6 L783.5 772.2 L786.5 773.8 L789.5 775.3 L792.5 776.9 L795.5 778.4 L798.5 779.9 L801.5 781.4 L804.5 782.8 L807.5 784.3 L810.5 785.7 L813.5 787.1 L816.5 788.5 L819.5 789.9 L822.5 791.2 L825.5 792.5 L828.5 793.9 L831.5 795.2 L834.5 796.4 L837.5 797.7 L840.5 798.9 L843.5 800.1 L846.5 801.3 L849.5 802.5 L852.5 803.7 L855.5 804.8 L858.5 805.9 L861.5 807.0 L864.5 808.1 L867.5 809.2 L870.5 810.2 L873.5 811.2 L876.5 812.2 L879.5 813.2 L882.5 814.2 L885.5 815.1 L888.5 816.1 L891.5 817.0 L894.5 817.9 L897.5 818.8 L900.5 819.6 L903.5 820.5 L906.5 821.3 L909.5 822.1 L912.5 822.9 L915.5 823.7 L918.5 824.4 L921.5 825.2 L924.5 825.9 L927.5 826.6 L930.5 827.3 L933.5 828.0 L936.5 828.7 L939.5 829.3 L942.5 830.0 L945.5 830.6 L948.5 831.2 L951.5 831.8 L954.5 832.4 L957.5 833.0 L960.5 833.6 L963.5 834.2 L966.5 834.7 L969.5 835.2 L972.5 835.8 L975.5 836.3 L978.5 836.8 L981.5 837.3 L984.5 837.8 L987.5 838.2 L990.5 838.7 L993.5 839.2 L996.5 839.6 L999.5 840.1 L1002.5 840.5 L1005.5 840.9 L1008.5 841.3 L1011.5 841.7 L1014.5 842.1 L1017.5 842.5 L1020.5 842.9 L1023.5 843.3 L1026.5 843.7 L1029.5 844.0 L1032.5 844.4 L1035.5 844.7 L1038.5 845.1 L1041.5 845.4 L1044.5 845.8 L1047.5 846.1 L1050.5 846.4 L1053.5 846.7 L1056.5 847.0 L1059.5 847.3 L1062.5 847.6 L1065.5 847.9 L1068.5 848.2 L1071.5 848.5 L1074.5 848.7 L1077.5 849.0 L1080.5 849.3 L1083.5 849.5 L1086.5 849.8 L1089.5 850.0 L1092.5 850.3 L1095.5 850.5 L1098.5 850.7 L1101.5 850.9 L1104.5 851.2 L1107.5 851.4 L1110.5 851.6 L1113.5 851.8 L1116.5 852.0 L1119.5 852.2 L1122.5 852.4 L1125.5 852.6 L1128.5 852.7 L1131.5 852.9 L1134.5 853.1 L1137.5 853.3 L1140.5 853.4 L1143.5 853.6 L1146.5 853.7 L1149.5 853.9 L1152.5 854.0 L1155.5 854.2 L1158.5 854.3 L1161.5 854.4 L1164.5 854.6 L1167.5 854.7 L1170.5 854.8 L1173.5 854.9 L1176.5 855.0 L1179.5 855.1 L1182.5 855.2 L1185.5 855.3 L1188.5 855.4 L1191.5 855.5 L1194.5 855.6 L1197.5 855.7 L1200.5 855.8 L1203.5 855.9 L1206.5 856.0 L1209.5 856.0 L1212.5 856.1 L1215.5 856.2 L1218.5 856.3 L1221.5 856.3 L1224.5 856.4 L1227.5 856.5 L1230.5 856.5 L1233.5 856.6 L1236.5 856.6 L1239.5 856.7 L1242.5 856.7 L1245.5 856.8 L1248.5 856.9 L1251.5 856.9 L1254.5 857.0 L1257.5 857.0 L1260.5 857.1 L1263.5 857.1 L1266.5 857.2 L1269.5 857.2 L1272.5 857.3 L1275.5 857.3 L1278.5 857.3 L1281.5 857.4 L1284.5 857.4 L1287.5 857.5 L1290.5 857.5 L1293.5 857.6 L1294.9 857.6 L1305.9 859.4"/>
<path class="ln" stroke="#2ADDDE" d="M216.5 832.0 L219.5 831.9 L222.5 831.9 L225.5 831.9 L228.5 831.8 L231.5 831.7 L234.5 831.7 L237.5 831.6 L240.5 831.5 L243.5 831.5 L246.5 831.4 L249.5 831.3 L252.5 831.2 L255.5 831.1 L258.5 831.0 L261.5 831.0 L264.5 830.9 L267.5 830.8 L270.5 830.7 L273.5 830.6 L276.5 830.5 L279.5 830.4 L282.5 830.3 L285.5 830.1 L288.5 830.0 L291.5 829.9 L294.5 829.8 L297.5 829.7 L300.5 829.6 L303.5 829.5 L306.5 829.4 L309.5 829.3 L312.5 829.2 L315.5 829.1 L318.5 829.0 L321.5 829.0 L324.5 828.9 L327.5 828.8 L330.5 828.7 L333.5 828.6 L336.5 828.5 L339.5 828.5 L342.5 828.4 L345.5 828.3 L348.5 828.3 L351.5 828.2 L354.5 828.2 L357.5 828.1 L360.5 828.1 L363.5 828.0 L366.5 828.0 L369.5 828.0 L372.5 828.0 L375.5 827.9 L378.5 827.9 L381.5 827.9 L384.5 827.9 L387.5 827.9 L390.5 827.9 L393.5 827.9 L396.5 828.0 L399.5 828.0 L402.5 828.0 L405.5 828.1 L408.5 828.1 L411.5 828.1 L414.5 828.2 L417.5 828.3 L420.5 828.3 L423.5 828.4 L426.5 828.5 L429.5 828.5 L432.5 828.6 L435.5 828.7 L438.5 828.8 L441.5 828.9 L444.5 829.0 L447.5 829.2 L450.5 829.3 L453.5 829.4 L456.5 829.5 L459.5 829.7 L462.5 829.8 L465.5 829.9 L468.5 830.1 L471.5 830.2 L474.5 830.4 L477.5 830.6 L480.5 830.7 L483.5 830.9 L486.5 831.1 L489.5 831.3 L492.5 831.4 L495.5 831.6 L498.5 831.8 L501.5 832.0 L504.5 832.2 L507.5 832.4 L510.5 832.6 L513.5 832.8 L516.5 833.0 L519.5 833.3 L522.5 833.5 L525.5 833.7 L528.5 833.9 L531.5 834.2 L534.5 834.4 L537.5 834.6 L540.5 834.8 L543.5 835.1 L546.5 835.3 L549.5 835.6 L552.5 835.8 L555.5 836.0 L558.5 836.3 L561.5 836.5 L564.5 836.8 L567.5 837.0 L570.5 837.3 L573.5 837.5 L576.5 837.8 L579.5 838.0 L582.5 838.3 L585.5 838.5 L588.5 838.8 L591.5 839.0 L594.5 839.3 L597.5 839.6 L600.5 839.8 L603.5 840.1 L606.5 840.3 L609.5 840.6 L612.5 840.8 L615.5 841.1 L618.5 841.3 L621.5 841.6 L624.5 841.9 L627.5 842.1 L630.5 842.4 L633.5 842.6 L636.5 842.9 L639.5 843.1 L642.5 843.4 L645.5 843.6 L648.5 843.9 L651.5 844.1 L654.5 844.4 L657.5 844.6 L660.5 844.9 L663.5 845.1 L666.5 845.4 L669.5 845.6 L672.5 845.8 L675.5 846.1 L678.5 846.3 L681.5 846.5 L684.5 846.8 L687.5 847.0 L690.5 847.2 L693.5 847.5 L696.5 847.7 L699.5 847.9 L702.5 848.1 L705.5 848.3 L708.5 848.6 L711.5 848.8 L714.5 849.0 L717.5 849.2 L720.5 849.4 L723.5 849.6 L726.5 849.8 L729.5 850.0 L732.5 850.2 L735.5 850.4 L738.5 850.6 L741.5 850.7 L744.5 850.9 L747.5 851.1 L750.5 851.3 L753.5 851.5 L756.5 851.6 L759.5 851.8 L762.5 852.0 L765.5 852.1 L768.5 852.3 L771.5 852.4 L774.5 852.6 L777.5 852.7 L780.5 852.9 L783.5 853.0 L786.5 853.2 L789.5 853.3 L792.5 853.4 L795.5 853.6 L798.5 853.7 L801.5 853.8 L804.5 853.9 L807.5 854.1 L810.5 854.2 L813.5 854.3 L816.5 854.4 L819.5 854.5 L822.5 854.6 L825.5 854.7 L828.5 854.8 L831.5 854.9 L834.5 855.0 L837.5 855.1 L840.5 855.2 L843.5 855.3 L846.5 855.4 L849.5 855.4 L852.5 855.5 L855.5 855.6 L858.5 855.7 L861.5 855.8 L864.5 855.8 L867.5 855.9 L870.5 856.0 L873.5 856.0 L876.5 856.1 L879.5 856.2 L882.5 856.2 L885.5 856.3 L888.5 856.4 L891.5 856.4 L894.5 856.5 L897.5 856.5 L900.5 856.6 L903.5 856.6 L906.5 856.7 L909.5 856.8 L912.5 856.8 L915.5 856.9 L918.5 856.9 L921.5 856.9 L924.5 857.0 L927.5 857.0 L930.5 857.1 L933.5 857.1 L936.5 857.2 L939.5 857.2 L942.5 857.3 L945.5 857.3 L948.5 857.3 L951.5 857.4 L954.5 857.4 L957.5 857.5 L960.5 857.5 L963.5 857.5 L966.5 857.6 L969.5 857.6 L972.5 857.7 L975.5 857.7 L978.5 857.7 L981.5 857.8 L984.5 857.8 L987.5 857.8 L990.5 857.9 L993.5 857.9 L996.5 857.9 L999.5 858.0 L1002.5 858.0 L1005.5 858.0 L1008.5 858.1 L1011.5 858.1 L1014.5 858.1 L1017.5 858.1 L1020.5 858.2 L1023.5 858.2 L1026.5 858.2 L1029.5 858.3 L1032.5 858.3 L1035.5 858.3 L1038.5 858.3 L1041.5 858.4 L1044.5 858.4 L1047.5 858.4 L1050.5 858.4 L1053.5 858.5 L1056.5 858.5 L1059.5 858.5 L1062.5 858.5 L1065.5 858.6 L1068.5 858.6 L1071.5 858.6 L1074.5 858.6 L1077.5 858.6 L1080.5 858.7 L1083.5 858.7 L1086.5 858.7 L1089.5 858.7 L1092.5 858.7 L1095.5 858.8 L1098.5 858.8 L1101.5 858.8 L1104.5 858.8 L1107.5 858.8 L1110.5 858.8 L1113.5 858.8 L1116.5 858.9 L1119.5 858.9 L1122.5 858.9 L1125.5 858.9 L1128.5 858.9 L1131.5 858.9 L1134.5 858.9 L1137.5 858.9 L1140.5 859.0 L1143.5 859.0 L1146.5 859.0 L1149.5 859.0 L1152.5 859.0 L1155.5 859.0 L1158.5 859.0 L1161.5 859.0 L1164.5 859.0 L1167.5 859.0 L1170.5 859.1 L1173.5 859.1 L1176.5 859.1 L1179.5 859.1 L1182.5 859.1 L1185.5 859.1 L1188.5 859.1 L1191.5 859.1 L1194.5 859.1 L1197.5 859.1 L1200.5 859.1 L1203.5 859.2 L1206.5 859.2 L1209.5 859.2 L1212.5 859.2 L1215.5 859.2 L1218.5 859.2 L1221.5 859.2 L1224.5 859.2 L1227.5 859.2 L1230.5 859.2 L1233.5 859.2 L1236.5 859.2 L1239.5 859.2 L1242.5 859.3 L1245.5 859.3 L1248.5 859.3 L1251.5 859.3 L1254.5 859.3 L1257.5 859.3 L1260.5 859.3 L1263.5 859.3 L1266.5 859.3 L1269.5 859.3 L1272.5 859.3 L1275.5 859.3 L1278.5 859.4 L1281.5 859.4 L1284.5 859.4 L1287.5 859.4 L1290.5 859.4 L1293.5 859.4 L1294.9 859.4 L1305.9 859.4"/>
<path class="ln" stroke="#BE00AC" d="M216.5 867.3 L219.5 867.4 L222.5 867.4 L225.5 867.5 L228.5 867.5 L231.5 867.6 L234.5 867.7 L237.5 867.7 L240.5 867.8 L243.5 867.8 L246.5 867.9 L249.5 867.9 L252.5 868.0 L255.5 868.0 L258.5 868.1 L261.5 868.1 L264.5 868.2 L267.5 868.2 L270.5 868.3 L273.5 868.3 L276.5 868.3 L279.5 868.4 L282.5 868.4 L285.5 868.5 L288.5 868.5 L291.5 868.5 L294.5 868.6 L297.5 868.6 L300.5 868.6 L303.5 868.7 L306.5 868.7 L309.5 868.7 L312.5 868.7 L315.5 868.8 L318.5 868.8 L321.5 868.8 L324.5 868.8 L327.5 868.9 L330.5 868.9 L333.5 868.9 L336.5 868.9 L339.5 868.9 L342.5 868.9 L345.5 868.9 L348.5 868.9 L351.5 869.0 L354.5 869.0 L357.5 869.0 L360.5 869.0 L363.5 869.0 L366.5 869.0 L369.5 869.0 L372.5 869.0 L375.5 869.0 L378.5 869.0 L381.5 869.0 L384.5 869.0 L387.5 869.0 L390.5 869.0 L393.5 869.0 L396.5 869.0 L399.5 869.0 L402.5 869.0 L405.5 869.0 L408.5 869.0 L411.5 869.0 L414.5 869.0 L417.5 869.0 L420.5 869.0 L423.5 869.0 L426.5 869.0 L429.5 869.0 L432.5 869.0 L435.5 869.1 L438.5 869.1 L441.5 869.1 L444.5 869.1 L447.5 869.1 L450.5 869.1 L453.5 869.1 L456.5 869.1 L459.5 869.2 L462.5 869.2 L465.5 869.2 L468.5 869.2 L471.5 869.2 L474.5 869.3 L477.5 869.3 L480.5 869.3 L483.5 869.3 L486.5 869.4 L489.5 869.4 L492.5 869.4 L495.5 869.4 L498.5 869.5 L501.5 869.5 L504.5 869.5 L507.5 869.6 L510.5 869.6 L513.5 869.6 L516.5 869.7 L519.5 869.7 L522.5 869.8 L525.5 869.8 L528.5 869.8 L531.5 869.9 L534.5 869.9 L537.5 870.0 L540.5 870.0 L543.5 870.0 L546.5 870.1 L549.5 870.1 L552.5 870.2 L555.5 870.2 L558.5 870.2 L561.5 870.3 L564.5 870.3 L567.5 870.4 L570.5 870.4 L573.5 870.4 L576.5 870.5 L579.5 870.5 L582.5 870.6 L585.5 870.6 L588.5 870.6 L591.5 870.7 L594.5 870.7 L597.5 870.7 L600.5 870.7 L603.5 870.8 L606.5 870.8 L609.5 870.8 L612.5 870.8 L615.5 870.9 L618.5 870.9 L621.5 870.9 L624.5 870.9 L627.5 870.9 L630.5 870.9 L633.5 870.9 L636.5 870.9 L639.5 870.9 L642.5 870.9 L645.5 870.9 L648.5 870.9 L651.5 870.9 L654.5 870.9 L657.5 870.9 L660.5 870.9 L663.5 870.8 L666.5 870.8 L669.5 870.8 L672.5 870.8 L675.5 870.7 L678.5 870.7 L681.5 870.7 L684.5 870.6 L687.5 870.6 L690.5 870.5 L693.5 870.5 L696.5 870.5 L699.5 870.4 L702.5 870.3 L705.5 870.3 L708.5 870.2 L711.5 870.2 L714.5 870.1 L717.5 870.0 L720.5 870.0 L723.5 869.9 L726.5 869.8 L729.5 869.8 L732.5 869.7 L735.5 869.6 L738.5 869.5 L741.5 869.5 L744.5 869.4 L747.5 869.3 L750.5 869.2 L753.5 869.1 L756.5 869.0 L759.5 868.9 L762.5 868.8 L765.5 868.8 L768.5 868.7 L771.5 868.6 L774.5 868.5 L777.5 868.4 L780.5 868.3 L783.5 868.2 L786.5 868.1 L789.5 868.0 L792.5 867.9 L795.5 867.8 L798.5 867.7 L801.5 867.6 L804.5 867.5 L807.5 867.3 L810.5 867.2 L813.5 867.1 L816.5 867.0 L819.5 866.9 L822.5 866.8 L825.5 866.7 L828.5 866.6 L831.5 866.5 L834.5 866.4 L837.5 866.3 L840.5 866.2 L843.5 866.1 L846.5 866.0 L849.5 865.9 L852.5 865.8 L855.5 865.7 L858.5 865.6 L861.5 865.5 L864.5 865.4 L867.5 865.3 L870.5 865.1 L873.5 865.0 L876.5 864.9 L879.5 864.8 L882.5 864.7 L885.5 864.6 L888.5 864.6 L891.5 864.5 L894.5 864.4 L897.5 864.3 L900.5 864.2 L903.5 864.1 L906.5 864.0 L909.5 863.9 L912.5 863.8 L915.5 863.7 L918.5 863.6 L921.5 863.5 L924.5 863.4 L927.5 863.4 L930.5 863.3 L933.5 863.2 L936.5 863.1 L939.5 863.0 L942.5 862.9 L945.5 862.9 L948.5 862.8 L951.5 862.7 L954.5 862.6 L957.5 862.6 L960.5 862.5 L963.5 862.4 L966.5 862.3 L969.5 862.3 L972.5 862.2 L975.5 862.1 L978.5 862.1 L981.5 862.0 L984.5 861.9 L987.5 861.9 L990.5 861.8 L993.5 861.7 L996.5 861.7 L999.5 861.6 L1002.5 861.6 L1005.5 861.5 L1008.5 861.4 L1011.5 861.4 L1014.5 861.3 L1017.5 861.3 L1020.5 861.2 L1023.5 861.2 L1026.5 861.1 L1029.5 861.1 L1032.5 861.0 L1035.5 861.0 L1038.5 861.0 L1041.5 860.9 L1044.5 860.9 L1047.5 860.8 L1050.5 860.8 L1053.5 860.8 L1056.5 860.7 L1059.5 860.7 L1062.5 860.7 L1065.5 860.6 L1068.5 860.6 L1071.5 860.6 L1074.5 860.5 L1077.5 860.5 L1080.5 860.5 L1083.5 860.4 L1086.5 860.4 L1089.5 860.4 L1092.5 860.4 L1095.5 860.3 L1098.5 860.3 L1101.5 860.3 L1104.5 860.3 L1107.5 860.3 L1110.5 860.2 L1113.5 860.2 L1116.5 860.2 L1119.5 860.2 L1122.5 860.2 L1125.5 860.1 L1128.5 860.1 L1131.5 860.1 L1134.5 860.1 L1137.5 860.1 L1140.5 860.1 L1143.5 860.1 L1146.5 860.1 L1149.5 860.0 L1152.5 860.0 L1155.5 860.0 L1158.5 860.0 L1161.5 860.0 L1164.5 860.0 L1167.5 860.0 L1170.5 860.0 L1173.5 860.0 L1176.5 859.9 L1179.5 859.9 L1182.5 859.9 L1185.5 859.9 L1188.5 859.9 L1191.5 859.9 L1194.5 859.9 L1197.5 859.9 L1200.5 859.9 L1203.5 859.9 L1206.5 859.9 L1209.5 859.9 L1212.5 859.8 L1215.5 859.8 L1218.5 859.8 L1221.5 859.8 L1224.5 859.8 L1227.5 859.8 L1230.5 859.8 L1233.5 859.8 L1236.5 859.8 L1239.5 859.8 L1242.5 859.8 L1245.5 859.8 L1248.5 859.8 L1251.5 859.8 L1254.5 859.7 L1257.5 859.7 L1260.5 859.7 L1263.5 859.7 L1266.5 859.7 L1269.5 859.7 L1272.5 859.7 L1275.5 859.7 L1278.5 859.7 L1281.5 859.7 L1284.5 859.7 L1287.5 859.7 L1290.5 859.6 L1293.5 859.6 L1294.9 859.6 L1305.9 859.4"/>
<path class="ln" stroke="#000000" d="M216.5 832.3 L219.5 832.2 L222.5 832.2 L225.5 832.1 L228.5 832.1 L231.5 832.0 L234.5 831.9 L237.5 831.9 L240.5 831.8 L243.5 831.7 L246.5 831.6 L249.5 831.6 L252.5 831.5 L255.5 831.4 L258.5 831.3 L261.5 831.2 L264.5 831.1 L267.5 831.0 L270.5 831.0 L273.5 830.9 L276.5 830.8 L279.5 830.7 L282.5 830.6 L285.5 830.5 L288.5 830.4 L291.5 830.3 L294.5 830.2 L297.5 830.1 L300.5 830.0 L303.5 829.9 L306.5 829.8 L309.5 829.7 L312.5 829.6 L315.5 829.5 L318.5 829.4 L321.5 829.3 L324.5 829.2 L327.5 829.2 L330.5 829.1 L333.5 829.0 L336.5 828.9 L339.5 828.8 L342.5 828.8 L345.5 828.7 L348.5 828.6 L351.5 828.6 L354.5 828.5 L357.5 828.4 L360.5 828.4 L363.5 828.4 L366.5 828.3 L369.5 828.3 L372.5 828.2 L375.5 828.2 L378.5 828.2 L381.5 828.2 L384.5 828.2 L387.5 828.2 L390.5 828.2 L393.5 828.2 L396.5 828.2 L399.5 828.2 L402.5 828.3 L405.5 828.3 L408.5 828.3 L411.5 828.4 L414.5 828.4 L417.5 828.5 L420.5 828.6 L423.5 828.7 L426.5 828.8 L429.5 828.9 L432.5 829.0 L435.5 829.1 L438.5 829.2 L441.5 829.3 L444.5 829.5 L447.5 829.6 L450.5 829.7 L453.5 829.9 L456.5 830.1 L459.5 830.2 L462.5 830.4 L465.5 830.6 L468.5 830.8 L471.5 831.0 L474.5 831.2 L477.5 831.5 L480.5 831.7 L483.5 831.9 L486.5 832.2 L489.5 832.4 L492.5 832.7 L495.5 832.9 L498.5 833.2 L501.5 833.5 L504.5 833.7 L507.5 834.0 L510.5 834.3 L513.5 834.6 L516.5 834.9 L519.5 835.2 L522.5 835.5 L525.5 835.9 L528.5 836.2 L531.5 836.5 L534.5 836.8 L537.5 837.2 L540.5 837.5 L543.5 837.8 L546.5 838.2 L549.5 838.5 L552.5 838.9 L555.5 839.2 L558.5 839.6 L561.5 839.9 L564.5 840.3 L567.5 840.6 L570.5 841.0 L573.5 841.3 L576.5 841.7 L579.5 842.0 L582.5 842.4 L585.5 842.7 L588.5 843.1 L591.5 843.4 L594.5 843.8 L597.5 844.1 L600.5 844.5 L603.5 844.8 L606.5 845.1 L609.5 845.5 L612.5 845.8 L615.5 846.1 L618.5 846.4 L621.5 846.7 L624.5 847.1 L627.5 847.4 L630.5 847.7 L633.5 848.0 L636.5 848.3 L639.5 848.5 L642.5 848.8 L645.5 849.1 L648.5 849.4 L651.5 849.6 L654.5 849.9 L657.5 850.2 L660.5 850.4 L663.5 850.7 L666.5 850.9 L669.5 851.1 L672.5 851.3 L675.5 851.6 L678.5 851.8 L681.5 852.0 L684.5 852.2 L687.5 852.4 L690.5 852.6 L693.5 852.7 L696.5 852.9 L699.5 853.1 L702.5 853.3 L705.5 853.4 L708.5 853.6 L711.5 853.7 L714.5 853.9 L717.5 854.0 L720.5 854.1 L723.5 854.3 L726.5 854.4 L729.5 854.5 L732.5 854.6 L735.5 854.7 L738.5 854.8 L741.5 854.9 L744.5 855.0 L747.5 855.1 L750.5 855.2 L753.5 855.3 L756.5 855.4 L759.5 855.5 L762.5 855.6 L765.5 855.6 L768.5 855.7 L771.5 855.8 L774.5 855.8 L777.5 855.9 L780.5 856.0 L783.5 856.0 L786.5 856.1 L789.5 856.2 L792.5 856.2 L795.5 856.3 L798.5 856.3 L801.5 856.4 L804.5 856.4 L807.5 856.5 L810.5 856.6 L813.5 856.6 L816.5 856.7 L819.5 856.7 L822.5 856.8 L825.5 856.8 L828.5 856.9 L831.5 856.9 L834.5 857.0 L837.5 857.0 L840.5 857.1 L843.5 857.1 L846.5 857.2 L849.5 857.2 L852.5 857.3 L855.5 857.3 L858.5 857.4 L861.5 857.4 L864.5 857.5 L867.5 857.6 L870.5 857.6 L873.5 857.7 L876.5 857.7 L879.5 857.8 L882.5 857.8 L885.5 857.9 L888.5 857.9 L891.5 858.0 L894.5 858.0 L897.5 858.1 L900.5 858.2 L903.5 858.2 L906.5 858.3 L909.5 858.3 L912.5 858.4 L915.5 858.4 L918.5 858.5 L921.5 858.5 L924.5 858.6 L927.5 858.6 L930.5 858.7 L933.5 858.7 L936.5 858.8 L939.5 858.8 L942.5 858.8 L945.5 858.9 L948.5 858.9 L951.5 859.0 L954.5 859.0 L957.5 859.0 L960.5 859.1 L963.5 859.1 L966.5 859.1 L969.5 859.2 L972.5 859.2 L975.5 859.2 L978.5 859.3 L981.5 859.3 L984.5 859.3 L987.5 859.3 L990.5 859.3 L993.5 859.4 L996.5 859.4 L999.5 859.4 L1002.5 859.4 L1005.5 859.4 L1008.5 859.4 L1011.5 859.4 L1014.5 859.4 L1017.5 859.5 L1020.5 859.5 L1023.5 859.5 L1026.5 859.5 L1029.5 859.5 L1032.5 859.5 L1035.5 859.5 L1038.5 859.5 L1041.5 859.5 L1044.5 859.5 L1047.5 859.5 L1050.5 859.5 L1053.5 859.5 L1056.5 859.4 L1059.5 859.4 L1062.5 859.4 L1065.5 859.4 L1068.5 859.4 L1071.5 859.4 L1074.5 859.4 L1077.5 859.4 L1080.5 859.4 L1083.5 859.4 L1086.5 859.4 L1089.5 859.4 L1092.5 859.4 L1095.5 859.3 L1098.5 859.3 L1101.5 859.3 L1104.5 859.3 L1107.5 859.3 L1110.5 859.3 L1113.5 859.3 L1116.5 859.3 L1119.5 859.3 L1122.5 859.3 L1125.5 859.3 L1128.5 859.3 L1131.5 859.3 L1134.5 859.3 L1137.5 859.3 L1140.5 859.3 L1143.5 859.3 L1146.5 859.3 L1149.5 859.3 L1152.5 859.3 L1155.5 859.3 L1158.5 859.3 L1161.5 859.3 L1164.5 859.3 L1167.5 859.3 L1170.5 859.3 L1173.5 859.3 L1176.5 859.3 L1179.5 859.4 L1182.5 859.4 L1185.5 859.4 L1188.5 859.4 L1191.5 859.4 L1194.5 859.4 L1197.5 859.4 L1200.5 859.4 L1203.5 859.4 L1206.5 859.4 L1209.5 859.5 L1212.5 859.5 L1215.5 859.5 L1218.5 859.5 L1221.5 859.5 L1224.5 859.5 L1227.5 859.5 L1230.5 859.5 L1233.5 859.5 L1236.5 859.5 L1239.5 859.6 L1242.5 859.6 L1245.5 859.6 L1248.5 859.6 L1251.5 859.6 L1254.5 859.6 L1257.5 859.6 L1260.5 859.6 L1263.5 859.6 L1266.5 859.6 L1269.5 859.6 L1272.5 859.6 L1275.5 859.6 L1278.5 859.6 L1281.5 859.6 L1284.5 859.6 L1287.5 859.6 L1290.5 859.6 L1293.5 859.5 L1294.9 859.5 L1305.9 859.4"/>
<path class="ln" stroke="#D63658" d="M216.5 833.9 L219.5 833.9 L222.5 833.9 L225.5 833.9 L228.5 834.0 L231.5 834.0 L234.5 834.0 L237.5 834.1 L240.5 834.1 L243.5 834.2 L246.5 834.2 L249.5 834.3 L252.5 834.3 L255.5 834.4 L258.5 834.4 L261.5 834.5 L264.5 834.6 L267.5 834.7 L270.5 834.7 L273.5 834.8 L276.5 834.9 L279.5 835.0 L282.5 835.1 L285.5 835.2 L288.5 835.3 L291.5 835.4 L294.5 835.5 L297.5 835.6 L300.5 835.7 L303.5 835.8 L306.5 835.9 L309.5 836.0 L312.5 836.1 L315.5 836.2 L318.5 836.3 L321.5 836.4 L324.5 836.5 L327.5 836.6 L330.5 836.7 L333.5 836.8 L336.5 837.0 L339.5 837.1 L342.5 837.2 L345.5 837.3 L348.5 837.4 L351.5 837.5 L354.5 837.6 L357.5 837.8 L360.5 837.9 L363.5 838.0 L366.5 838.1 L369.5 838.2 L372.5 838.3 L375.5 838.4 L378.5 838.5 L381.5 838.6 L384.5 838.8 L387.5 838.9 L390.5 839.0 L393.5 839.1 L396.5 839.2 L399.5 839.3 L402.5 839.4 L405.5 839.5 L408.5 839.6 L411.5 839.7 L414.5 839.8 L417.5 839.9 L420.5 840.0 L423.5 840.1 L426.5 840.2 L429.5 840.3 L432.5 840.4 L435.5 840.5 L438.5 840.5 L441.5 840.6 L444.5 840.7 L447.5 840.8 L450.5 840.9 L453.5 841.0 L456.5 841.1 L459.5 841.1 L462.5 841.2 L465.5 841.3 L468.5 841.4 L471.5 841.5 L474.5 841.5 L477.5 841.6 L480.5 841.7 L483.5 841.8 L486.5 841.8 L489.5 841.9 L492.5 842.0 L495.5 842.1 L498.5 842.1 L501.5 842.2 L504.5 842.3 L507.5 842.4 L510.5 842.4 L513.5 842.5 L516.5 842.6 L519.5 842.6 L522.5 842.7 L525.5 842.8 L528.5 842.9 L531.5 842.9 L534.5 843.0 L537.5 843.1 L540.5 843.1 L543.5 843.2 L546.5 843.3 L549.5 843.4 L552.5 843.4 L555.5 843.5 L558.5 843.6 L561.5 843.6 L564.5 843.7 L567.5 843.8 L570.5 843.9 L573.5 843.9 L576.5 844.0 L579.5 844.1 L582.5 844.2 L585.5 844.3 L588.5 844.3 L591.5 844.4 L594.5 844.5 L597.5 844.6 L600.5 844.7 L603.5 844.7 L606.5 844.8 L609.5 844.9 L612.5 845.0 L615.5 845.1 L618.5 845.2 L621.5 845.3 L624.5 845.3 L627.5 845.4 L630.5 845.5 L633.5 845.6 L636.5 845.7 L639.5 845.8 L642.5 845.9 L645.5 846.0 L648.5 846.1 L651.5 846.2 L654.5 846.3 L657.5 846.4 L660.5 846.5 L663.5 846.6 L666.5 846.7 L669.5 846.8 L672.5 846.9 L675.5 847.0 L678.5 847.1 L681.5 847.2 L684.5 847.3 L687.5 847.4 L690.5 847.5 L693.5 847.6 L696.5 847.7 L699.5 847.8 L702.5 847.9 L705.5 848.0 L708.5 848.1 L711.5 848.2 L714.5 848.3 L717.5 848.5 L720.5 848.6 L723.5 848.7 L726.5 848.8 L729.5 848.9 L732.5 849.0 L735.5 849.1 L738.5 849.2 L741.5 849.3 L744.5 849.5 L747.5 849.6 L750.5 849.7 L753.5 849.8 L756.5 849.9 L759.5 850.0 L762.5 850.2 L765.5 850.3 L768.5 850.4 L771.5 850.5 L774.5 850.6 L777.5 850.7 L780.5 850.9 L783.5 851.0 L786.5 851.1 L789.5 851.2 L792.5 851.3 L795.5 851.4 L798.5 851.6 L801.5 851.7 L804.5 851.8 L807.5 851.9 L810.5 852.0 L813.5 852.1 L816.5 852.3 L819.5 852.4 L822.5 852.5 L825.5 852.6 L828.5 852.7 L831.5 852.8 L834.5 853.0 L837.5 853.1 L840.5 853.2 L843.5 853.3 L846.5 853.4 L849.5 853.5 L852.5 853.6 L855.5 853.8 L858.5 853.9 L861.5 854.0 L864.5 854.1 L867.5 854.2 L870.5 854.3 L873.5 854.4 L876.5 854.5 L879.5 854.6 L882.5 854.7 L885.5 854.8 L888.5 854.9 L891.5 855.0 L894.5 855.1 L897.5 855.2 L900.5 855.3 L903.5 855.4 L906.5 855.5 L909.5 855.6 L912.5 855.6 L915.5 855.7 L918.5 855.8 L921.5 855.9 L924.5 856.0 L927.5 856.0 L930.5 856.1 L933.5 856.2 L936.5 856.3 L939.5 856.3 L942.5 856.4 L945.5 856.5 L948.5 856.5 L951.5 856.6 L954.5 856.7 L957.5 856.7 L960.5 856.8 L963.5 856.8 L966.5 856.9 L969.5 856.9 L972.5 857.0 L975.5 857.0 L978.5 857.1 L981.5 857.1 L984.5 857.2 L987.5 857.2 L990.5 857.2 L993.5 857.3 L996.5 857.3 L999.5 857.3 L1002.5 857.4 L1005.5 857.4 L1008.5 857.4 L1011.5 857.4 L1014.5 857.5 L1017.5 857.5 L1020.5 857.5 L1023.5 857.5 L1026.5 857.6 L1029.5 857.6 L1032.5 857.6 L1035.5 857.6 L1038.5 857.6 L1041.5 857.6 L1044.5 857.6 L1047.5 857.7 L1050.5 857.7 L1053.5 857.7 L1056.5 857.7 L1059.5 857.7 L1062.5 857.7 L1065.5 857.7 L1068.5 857.7 L1071.5 857.7 L1074.5 857.7 L1077.5 857.8 L1080.5 857.8 L1083.5 857.8 L1086.5 857.8 L1089.5 857.8 L1092.5 857.8 L1095.5 857.8 L1098.5 857.8 L1101.5 857.8 L1104.5 857.8 L1107.5 857.8 L1110.5 857.8 L1113.5 857.9 L1116.5 857.9 L1119.5 857.9 L1122.5 857.9 L1125.5 857.9 L1128.5 857.9 L1131.5 857.9 L1134.5 857.9 L1137.5 858.0 L1140.5 858.0 L1143.5 858.0 L1146.5 858.0 L1149.5 858.0 L1152.5 858.1 L1155.5 858.1 L1158.5 858.1 L1161.5 858.1 L1164.5 858.1 L1167.5 858.2 L1170.5 858.2 L1173.5 858.2 L1176.5 858.2 L1179.5 858.3 L1182.5 858.3 L1185.5 858.3 L1188.5 858.3 L1191.5 858.4 L1194.5 858.4 L1197.5 858.4 L1200.5 858.4 L1203.5 858.5 L1206.5 858.5 L1209.5 858.5 L1212.5 858.6 L1215.5 858.6 L1218.5 858.6 L1221.5 858.6 L1224.5 858.7 L1227.5 858.7 L1230.5 858.7 L1233.5 858.8 L1236.5 858.8 L1239.5 858.8 L1242.5 858.8 L1245.5 858.9 L1248.5 858.9 L1251.5 858.9 L1254.5 858.9 L1257.5 859.0 L1260.5 859.0 L1263.5 859.0 L1266.5 859.0 L1269.5 859.0 L1272.5 859.1 L1275.5 859.1 L1278.5 859.1 L1281.5 859.1 L1284.5 859.1 L1287.5 859.1 L1290.5 859.2 L1293.5 859.2 L1294.9 859.2 L1305.9 859.4"/>
<path class="ln" stroke="#45C22E" d="M216.5 837.7 L219.5 837.9 L222.5 838.0 L225.5 838.1 L228.5 838.3 L231.5 838.4 L234.5 838.6 L237.5 838.7 L240.5 838.8 L243.5 839.0 L246.5 839.1 L249.5 839.3 L252.5 839.4 L255.5 839.6 L258.5 839.8 L261.5 839.9 L264.5 840.1 L267.5 840.2 L270.5 840.4 L273.5 840.6 L276.5 840.7 L279.5 840.9 L282.5 841.1 L285.5 841.3 L288.5 841.4 L291.5 841.6 L294.5 841.8 L297.5 842.0 L300.5 842.2 L303.5 842.4 L306.5 842.5 L309.5 842.7 L312.5 842.9 L315.5 843.1 L318.5 843.3 L321.5 843.5 L324.5 843.7 L327.5 843.9 L330.5 844.2 L333.5 844.4 L336.5 844.6 L339.5 844.8 L342.5 845.0 L345.5 845.2 L348.5 845.5 L351.5 845.7 L354.5 845.9 L357.5 846.1 L360.5 846.4 L363.5 846.6 L366.5 846.9 L369.5 847.1 L372.5 847.3 L375.5 847.6 L378.5 847.8 L381.5 848.1 L384.5 848.3 L387.5 848.6 L390.5 848.9 L393.5 849.1 L396.5 849.4 L399.5 849.6 L402.5 849.9 L405.5 850.2 L408.5 850.4 L411.5 850.7 L414.5 851.0 L417.5 851.2 L420.5 851.5 L423.5 851.8 L426.5 852.1 L429.5 852.4 L432.5 852.6 L435.5 852.9 L438.5 853.2 L441.5 853.5 L444.5 853.7 L447.5 854.0 L450.5 854.3 L453.5 854.6 L456.5 854.9 L459.5 855.1 L462.5 855.4 L465.5 855.7 L468.5 856.0 L471.5 856.3 L474.5 856.5 L477.5 856.8 L480.5 857.1 L483.5 857.4 L486.5 857.6 L489.5 857.9 L492.5 858.2 L495.5 858.4 L498.5 858.7 L501.5 858.9 L504.5 859.2 L507.5 859.4 L510.5 859.7 L513.5 859.9 L516.5 860.2 L519.5 860.4 L522.5 860.7 L525.5 860.9 L528.5 861.1 L531.5 861.4 L534.5 861.6 L537.5 861.8 L540.5 862.0 L543.5 862.2 L546.5 862.4 L549.5 862.6 L552.5 862.8 L555.5 863.0 L558.5 863.2 L561.5 863.4 L564.5 863.6 L567.5 863.7 L570.5 863.9 L573.5 864.1 L576.5 864.2 L579.5 864.4 L582.5 864.5 L585.5 864.7 L588.5 864.8 L591.5 865.0 L594.5 865.1 L597.5 865.2 L600.5 865.3 L603.5 865.5 L606.5 865.6 L609.5 865.7 L612.5 865.8 L615.5 865.9 L618.5 866.0 L621.5 866.1 L624.5 866.1 L627.5 866.2 L630.5 866.3 L633.5 866.4 L636.5 866.4 L639.5 866.5 L642.5 866.6 L645.5 866.6 L648.5 866.7 L651.5 866.7 L654.5 866.7 L657.5 866.8 L660.5 866.8 L663.5 866.9 L666.5 866.9 L669.5 866.9 L672.5 866.9 L675.5 866.9 L678.5 867.0 L681.5 867.0 L684.5 867.0 L687.5 867.0 L690.5 867.0 L693.5 867.0 L696.5 867.0 L699.5 867.0 L702.5 867.0 L705.5 867.0 L708.5 866.9 L711.5 866.9 L714.5 866.9 L717.5 866.9 L720.5 866.9 L723.5 866.8 L726.5 866.8 L729.5 866.8 L732.5 866.8 L735.5 866.7 L738.5 866.7 L741.5 866.7 L744.5 866.6 L747.5 866.6 L750.5 866.5 L753.5 866.5 L756.5 866.4 L759.5 866.4 L762.5 866.3 L765.5 866.3 L768.5 866.2 L771.5 866.2 L774.5 866.1 L777.5 866.1 L780.5 866.0 L783.5 866.0 L786.5 865.9 L789.5 865.8 L792.5 865.8 L795.5 865.7 L798.5 865.6 L801.5 865.6 L804.5 865.5 L807.5 865.4 L810.5 865.4 L813.5 865.3 L816.5 865.2 L819.5 865.1 L822.5 865.1 L825.5 865.0 L828.5 864.9 L831.5 864.8 L834.5 864.8 L837.5 864.7 L840.5 864.6 L843.5 864.5 L846.5 864.4 L849.5 864.4 L852.5 864.3 L855.5 864.2 L858.5 864.1 L861.5 864.0 L864.5 863.9 L867.5 863.8 L870.5 863.8 L873.5 863.7 L876.5 863.6 L879.5 863.5 L882.5 863.4 L885.5 863.3 L888.5 863.3 L891.5 863.2 L894.5 863.1 L897.5 863.0 L900.5 862.9 L903.5 862.8 L906.5 862.7 L909.5 862.7 L912.5 862.6 L915.5 862.5 L918.5 862.4 L921.5 862.3 L924.5 862.2 L927.5 862.2 L930.5 862.1 L933.5 862.0 L936.5 861.9 L939.5 861.9 L942.5 861.8 L945.5 861.7 L948.5 861.6 L951.5 861.6 L954.5 861.5 L957.5 861.4 L960.5 861.4 L963.5 861.3 L966.5 861.2 L969.5 861.2 L972.5 861.1 L975.5 861.1 L978.5 861.0 L981.5 860.9 L984.5 860.9 L987.5 860.8 L990.5 860.8 L993.5 860.7 L996.5 860.7 L999.5 860.6 L1002.5 860.6 L1005.5 860.5 L1008.5 860.5 L1011.5 860.4 L1014.5 860.4 L1017.5 860.4 L1020.5 860.3 L1023.5 860.3 L1026.5 860.3 L1029.5 860.2 L1032.5 860.2 L1035.5 860.2 L1038.5 860.1 L1041.5 860.1 L1044.5 860.1 L1047.5 860.1 L1050.5 860.0 L1053.5 860.0 L1056.5 860.0 L1059.5 860.0 L1062.5 859.9 L1065.5 859.9 L1068.5 859.9 L1071.5 859.9 L1074.5 859.9 L1077.5 859.9 L1080.5 859.8 L1083.5 859.8 L1086.5 859.8 L1089.5 859.8 L1092.5 859.8 L1095.5 859.8 L1098.5 859.8 L1101.5 859.8 L1104.5 859.7 L1107.5 859.7 L1110.5 859.7 L1113.5 859.7 L1116.5 859.7 L1119.5 859.7 L1122.5 859.7 L1125.5 859.7 L1128.5 859.7 L1131.5 859.7 L1134.5 859.7 L1137.5 859.7 L1140.5 859.6 L1143.5 859.6 L1146.5 859.6 L1149.5 859.6 L1152.5 859.6 L1155.5 859.6 L1158.5 859.6 L1161.5 859.6 L1164.5 859.6 L1167.5 859.6 L1170.5 859.6 L1173.5 859.6 L1176.5 859.6 L1179.5 859.5 L1182.5 859.5 L1185.5 859.5 L1188.5 859.5 L1191.5 859.5 L1194.5 859.5 L1197.5 859.5 L1200.5 859.5 L1203.5 859.5 L1206.5 859.5 L1209.5 859.5 L1212.5 859.5 L1215.5 859.4 L1218.5 859.4 L1221.5 859.4 L1224.5 859.4 L1227.5 859.4 L1230.5 859.4 L1233.5 859.4 L1236.5 859.4 L1239.5 859.4 L1242.5 859.4 L1245.5 859.4 L1248.5 859.4 L1251.5 859.4 L1254.5 859.4 L1257.5 859.4 L1260.5 859.4 L1263.5 859.4 L1266.5 859.4 L1269.5 859.4 L1272.5 859.4 L1275.5 859.4 L1278.5 859.4 L1281.5 859.4 L1284.5 859.4 L1287.5 859.4 L1290.5 859.4 L1293.5 859.4 L1294.9 859.4 L1305.9 859.4"/>
</g>
<rect class="tk" x="173.0" y="173.0" width="1176.8" height="766.6"/>
<g id="ticks">
<line class="tk" x1="352.4" y1="939.6" x2="352.4" y2="960.6"/>
<line class="tk" x1="352.4" y1="173.0" x2="352.4" y2="164.8"/>
<line class="tk" x1="589.0" y1="939.6" x2="589.0" y2="960.6"/>
<line class="tk" x1="589.0" y1="173.0" x2="589.0" y2="164.8"/>
<line class="tk" x1="825.6" y1="939.6" x2="825.6" y2="960.6"/>
<line class="tk" x1="825.6" y1="173.0" x2="825.6" y2="164.8"/>
<line class="tk" x1="1062.2" y1="939.6" x2="1062.2" y2="960.6"/>
<line class="tk" x1="1062.2" y1="173.0" x2="1062.2" y2="164.8"/>
<line class="tk" x1="1298.8" y1="939.6" x2="1298.8" y2="960.6"/>
<line class="tk" x1="1298.8" y1="173.0" x2="1298.8" y2="164.8"/>
<line class="tk" x1="173.0" y1="859.5" x2="152.0" y2="859.5"/>
<line class="tk" x1="173.0" y1="727.7" x2="152.0" y2="727.7"/>
<line class="tk" x1="173.0" y1="595.9" x2="152.0" y2="595.9"/>
<line class="tk" x1="173.0" y1="464.1" x2="152.0" y2="464.1"/>
<line class="tk" x1="173.0" y1="332.3" x2="152.0" y2="332.3"/>
<line class="tk" x1="173.0" y1="200.5" x2="152.0" y2="200.5"/>
</g>
<g id="axis-labels" class="ax" text-anchor="middle">
<text transform="translate(351.9 1015.9) scale(1 1.035)">2</text>
<text transform="translate(352.6 122.8) scale(1 1.035)">15</text>
<text transform="translate(588.5 1015.9) scale(1 1.035)">4</text>
<text transform="translate(589.2 122.8) scale(1 1.035)">15</text>
<text transform="translate(825.1 1015.9) scale(1 1.035)">6</text>
<text transform="translate(825.8 122.8) scale(1 1.035)">15</text>
<text transform="translate(1061.7 1015.9) scale(1 1.035)">8</text>
<text transform="translate(1062.4 122.8) scale(1 1.035)">15</text>
<text transform="translate(1298.3 1015.9) scale(1 1.035)">10</text>
<text transform="translate(1299.0 122.8) scale(1 1.035)">15</text>
<text transform="translate(121.8 859.5) rotate(-90) scale(1 1.035)">0</text>
<text transform="translate(121.8 727.7) rotate(-90) scale(1 1.035)">2</text>
<text transform="translate(121.8 595.9) rotate(-90) scale(1 1.035)">4</text>
<text transform="translate(121.8 464.1) rotate(-90) scale(1 1.035)">6</text>
<text transform="translate(121.8 332.3) rotate(-90) scale(1 1.035)">8</text>
<text transform="translate(121.8 200.5) rotate(-90) scale(1 1.035)">10</text>
<text x="761.0" y="1101.0" style="font-size:35px">Log Lambda</text>
<text transform="translate(37.4 556.4) rotate(-90)">Coefficients</text>
</g>
<g id="curve-labels">
<text class="lb" x="195.1" y="859.3">1</text>
<text class="lb" x="195.1" y="861.8">2</text>
<text class="lb" x="195.1" y="865.5">3</text>
<text class="lb" x="195.1" y="205.6">8</text>
<text class="lb" x="195.1" y="777.4">9</text>
<text class="lb" x="195.1" y="223.5">10</text>
<text class="lb" x="195.1" y="915.9">11</text>
<text class="lb" x="195.1" y="868.7">12</text>
<text class="lb" x="195.1" y="662.7">13</text>
<text class="lb" x="195.1" y="733.4">14</text>
<text class="lb" x="195.1" y="836.6">15</text>
<text class="lb" x="195.1" y="872.0">16</text>
<text class="lb" x="195.1" y="836.9">17</text>
<text class="lb" x="195.1" y="838.5">18</text>
<text class="lb" x="195.1" y="842.4">19</text>
</g>
</svg>
</body>
</html>
